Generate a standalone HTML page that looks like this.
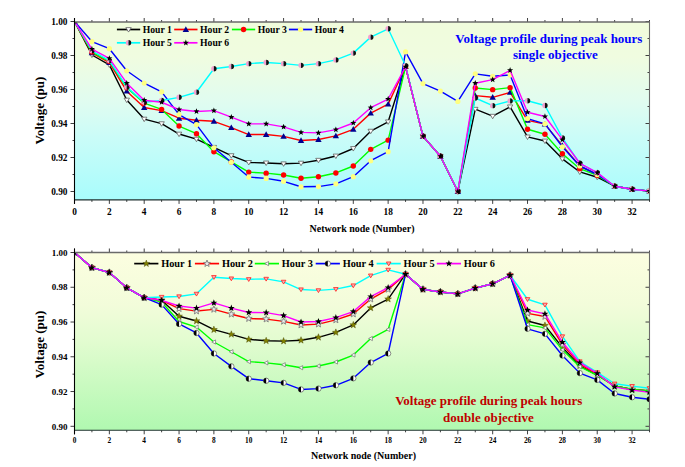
<!DOCTYPE html>
<html><head><meta charset="utf-8"><style>
html,body{margin:0;padding:0;background:#fff;width:685px;height:467px;overflow:hidden}
svg{display:block}
</style></head><body>
<svg width="685" height="467" viewBox="0 0 685 467">
<defs>
<linearGradient id="gt" x1="0" y1="0" x2="0" y2="1">
<stop offset="0" stop-color="#f0fcdc"/><stop offset="0.2" stop-color="#f0fce0"/><stop offset="0.45" stop-color="#e0fcf0"/><stop offset="0.65" stop-color="#cafcf8"/><stop offset="1" stop-color="#a8fcfc"/>
</linearGradient>
<linearGradient id="gb" x1="0" y1="0" x2="0" y2="1">
<stop offset="0" stop-color="#fcfee0"/><stop offset="0.3" stop-color="#f2fcda"/><stop offset="0.5" stop-color="#e2fcd0"/><stop offset="1" stop-color="#b0f8b0"/>
</linearGradient>
<clipPath id="ct"><rect x="74.5" y="22.0" width="575.0" height="177.9"/></clipPath>
<clipPath id="cb"><rect x="74.5" y="252.5" width="575.0" height="177.8"/></clipPath>
</defs>
<rect width="685" height="467" fill="#ffffff"/>
<rect x="74.5" y="22.0" width="575.0" height="177.9" fill="url(#gt)"/>
<rect x="74.5" y="252.5" width="575.0" height="177.8" fill="url(#gb)"/>
<line x1="116.9" y1="29.5" x2="140.20000000000002" y2="29.5" stroke="#000000" stroke-width="1.7"/>
<polygon points="125.85,27.61 131.25,27.61 128.55,32.06" fill="#ffffff" stroke="#606060" stroke-width="0.8"/>
<text x="142.70000000000002" y="32.80" font-size="9.7" font-family="'Liberation Serif', serif" font-weight="bold" fill="#000">Hour 1</text><line x1="174.2" y1="29.5" x2="197.5" y2="29.5" stroke="#ff0000" stroke-width="1.7"/>
<polygon points="182.65,31.90 189.05,31.90 185.85,26.30" fill="#000090"/>
<text x="200.0" y="32.80" font-size="9.7" font-family="'Liberation Serif', serif" font-weight="bold" fill="#000">Hour 2</text><line x1="231.9" y1="29.5" x2="255.20000000000002" y2="29.5" stroke="#00ff00" stroke-width="1.7"/>
<circle cx="243.55" cy="29.50" r="2.7" fill="#ff0000"/>
<text x="257.70000000000005" y="32.80" font-size="9.7" font-family="'Liberation Serif', serif" font-weight="bold" fill="#000">Hour 3</text><line x1="288.9" y1="29.5" x2="312.2" y2="29.5" stroke="#0000ff" stroke-width="1.7"/>
<circle cx="300.55" cy="29.50" r="2.6" fill="#ffff80"/>
<text x="314.7" y="32.80" font-size="9.7" font-family="'Liberation Serif', serif" font-weight="bold" fill="#000">Hour 4</text><line x1="116.9" y1="42.8" x2="140.20000000000002" y2="42.8" stroke="#00ffff" stroke-width="1.7"/>
<path d="M128.55,40.10 A2.7,2.7 0 0 0 128.55,45.50 Z" fill="#f4a0d0"/><path d="M128.55,40.10 A2.7,2.7 0 0 1 128.55,45.50 Z" fill="#101010"/>
<text x="142.70000000000002" y="46.10" font-size="9.7" font-family="'Liberation Serif', serif" font-weight="bold" fill="#000">Hour 5</text><line x1="174.2" y1="42.8" x2="197.5" y2="42.8" stroke="#ff00ff" stroke-width="1.7"/>
<polygon points="185.85,39.60 186.64,41.71 188.89,41.81 187.13,43.22 187.73,45.39 185.85,44.14 183.97,45.39 184.57,43.22 182.81,41.81 185.06,41.71" fill="#000000" stroke="none" stroke-width="0.5"/>
<text x="200.0" y="46.10" font-size="9.7" font-family="'Liberation Serif', serif" font-weight="bold" fill="#000">Hour 6</text><text x="548.9" y="43.2" font-size="13" text-anchor="middle" font-family="'Liberation Serif', serif" font-weight="bold" fill="#0000ff">Voltage profile during peak hours</text><text x="555.3" y="59.1" font-size="13" text-anchor="middle" font-family="'Liberation Serif', serif" font-weight="bold" fill="#0000ff">single objective</text><g clip-path="url(#ct)">
<polyline points="74.50,21.50 91.92,54.99 109.35,64.85 126.77,100.04 144.20,119.08 161.62,123.67 179.05,134.04 196.47,139.14 213.89,147.30 231.32,155.63 248.74,162.43 266.17,162.94 283.59,163.79 301.02,163.11 318.44,160.22 335.86,155.97 353.29,148.49 370.71,131.15 388.14,121.80 405.56,66.72 422.98,136.25 440.41,156.31 457.83,191.50 475.26,109.22 492.68,116.19 510.11,106.84 527.53,136.93 544.95,141.01 562.38,158.86 579.80,171.95 597.23,177.22 614.65,186.23 632.08,189.29 649.50,191.16" fill="none" stroke="#000000" stroke-width="1.4" stroke-linejoin="round"/>
<polygon points="71.80,19.61 77.20,19.61 74.50,24.07" fill="#ffffff" stroke="#606060" stroke-width="0.8"/>
<polygon points="89.22,53.10 94.62,53.10 91.92,57.56" fill="#ffffff" stroke="#606060" stroke-width="0.8"/>
<polygon points="106.65,62.96 112.05,62.96 109.35,67.41" fill="#ffffff" stroke="#606060" stroke-width="0.8"/>
<polygon points="124.07,98.15 129.47,98.15 126.77,102.61" fill="#ffffff" stroke="#606060" stroke-width="0.8"/>
<polygon points="141.50,117.19 146.90,117.19 144.20,121.65" fill="#ffffff" stroke="#606060" stroke-width="0.8"/>
<polygon points="158.92,121.78 164.32,121.78 161.62,126.24" fill="#ffffff" stroke="#606060" stroke-width="0.8"/>
<polygon points="176.35,132.15 181.75,132.15 179.05,136.61" fill="#ffffff" stroke="#606060" stroke-width="0.8"/>
<polygon points="193.77,137.25 199.17,137.25 196.47,141.71" fill="#ffffff" stroke="#606060" stroke-width="0.8"/>
<polygon points="211.19,145.41 216.59,145.41 213.89,149.86" fill="#ffffff" stroke="#606060" stroke-width="0.8"/>
<polygon points="228.62,153.74 234.02,153.74 231.32,158.19" fill="#ffffff" stroke="#606060" stroke-width="0.8"/>
<polygon points="246.04,160.54 251.44,160.54 248.74,164.99" fill="#ffffff" stroke="#606060" stroke-width="0.8"/>
<polygon points="263.47,161.05 268.87,161.05 266.17,165.51" fill="#ffffff" stroke="#606060" stroke-width="0.8"/>
<polygon points="280.89,161.90 286.29,161.90 283.59,166.35" fill="#ffffff" stroke="#606060" stroke-width="0.8"/>
<polygon points="298.32,161.22 303.72,161.22 301.02,165.68" fill="#ffffff" stroke="#606060" stroke-width="0.8"/>
<polygon points="315.74,158.33 321.14,158.33 318.44,162.78" fill="#ffffff" stroke="#606060" stroke-width="0.8"/>
<polygon points="333.16,154.08 338.56,154.08 335.86,158.53" fill="#ffffff" stroke="#606060" stroke-width="0.8"/>
<polygon points="350.59,146.60 355.99,146.60 353.29,151.05" fill="#ffffff" stroke="#606060" stroke-width="0.8"/>
<polygon points="368.01,129.26 373.41,129.26 370.71,133.72" fill="#ffffff" stroke="#606060" stroke-width="0.8"/>
<polygon points="385.44,119.91 390.84,119.91 388.14,124.37" fill="#ffffff" stroke="#606060" stroke-width="0.8"/>
<polygon points="402.86,64.83 408.26,64.83 405.56,69.28" fill="#ffffff" stroke="#606060" stroke-width="0.8"/>
<polygon points="420.28,134.36 425.68,134.36 422.98,138.81" fill="#ffffff" stroke="#606060" stroke-width="0.8"/>
<polygon points="437.71,154.42 443.11,154.42 440.41,158.88" fill="#ffffff" stroke="#606060" stroke-width="0.8"/>
<polygon points="455.13,189.61 460.53,189.61 457.83,194.06" fill="#ffffff" stroke="#606060" stroke-width="0.8"/>
<polygon points="472.56,107.33 477.96,107.33 475.26,111.78" fill="#ffffff" stroke="#606060" stroke-width="0.8"/>
<polygon points="489.98,114.30 495.38,114.30 492.68,118.75" fill="#ffffff" stroke="#606060" stroke-width="0.8"/>
<polygon points="507.41,104.95 512.81,104.95 510.11,109.41" fill="#ffffff" stroke="#606060" stroke-width="0.8"/>
<polygon points="524.83,135.04 530.23,135.04 527.53,139.49" fill="#ffffff" stroke="#606060" stroke-width="0.8"/>
<polygon points="542.25,139.12 547.65,139.12 544.95,143.58" fill="#ffffff" stroke="#606060" stroke-width="0.8"/>
<polygon points="559.68,156.97 565.08,156.97 562.38,161.42" fill="#ffffff" stroke="#606060" stroke-width="0.8"/>
<polygon points="577.10,170.06 582.50,170.06 579.80,174.52" fill="#ffffff" stroke="#606060" stroke-width="0.8"/>
<polygon points="594.53,175.33 599.93,175.33 597.23,179.79" fill="#ffffff" stroke="#606060" stroke-width="0.8"/>
<polygon points="611.95,184.34 617.35,184.34 614.65,188.79" fill="#ffffff" stroke="#606060" stroke-width="0.8"/>
<polygon points="629.38,187.40 634.78,187.40 632.08,191.86" fill="#ffffff" stroke="#606060" stroke-width="0.8"/>
<polygon points="646.80,189.27 652.20,189.27 649.50,193.72" fill="#ffffff" stroke="#606060" stroke-width="0.8"/>
<polyline points="74.50,21.50 91.92,52.95 109.35,62.64 126.77,91.20 144.20,107.52 161.62,110.58 179.05,118.23 196.47,120.27 213.89,121.29 231.32,127.58 248.74,134.55 266.17,134.55 283.59,136.42 301.02,140.50 318.44,139.48 335.86,135.91 353.29,129.28 370.71,113.13 388.14,104.12 405.56,66.72 422.98,136.25 440.41,156.31 457.83,191.50 475.26,95.62 492.68,97.32 510.11,92.39 527.53,120.44 544.95,124.18 562.38,145.60 579.80,166.00 597.23,174.50 614.65,186.23 632.08,189.29 649.50,191.16" fill="none" stroke="#ff0000" stroke-width="1.4" stroke-linejoin="round"/>
<polygon points="71.30,23.90 77.70,23.90 74.50,18.30" fill="#000090"/>
<polygon points="88.72,55.35 95.12,55.35 91.92,49.75" fill="#000090"/>
<polygon points="106.15,65.04 112.55,65.04 109.35,59.44" fill="#000090"/>
<polygon points="123.57,93.60 129.97,93.60 126.77,88.00" fill="#000090"/>
<polygon points="141.00,109.92 147.40,109.92 144.20,104.32" fill="#000090"/>
<polygon points="158.42,112.98 164.82,112.98 161.62,107.38" fill="#000090"/>
<polygon points="175.85,120.63 182.25,120.63 179.05,115.03" fill="#000090"/>
<polygon points="193.27,122.67 199.67,122.67 196.47,117.07" fill="#000090"/>
<polygon points="210.69,123.69 217.09,123.69 213.89,118.09" fill="#000090"/>
<polygon points="228.12,129.98 234.52,129.98 231.32,124.38" fill="#000090"/>
<polygon points="245.54,136.95 251.94,136.95 248.74,131.35" fill="#000090"/>
<polygon points="262.97,136.95 269.37,136.95 266.17,131.35" fill="#000090"/>
<polygon points="280.39,138.82 286.79,138.82 283.59,133.22" fill="#000090"/>
<polygon points="297.82,142.90 304.22,142.90 301.02,137.30" fill="#000090"/>
<polygon points="315.24,141.88 321.64,141.88 318.44,136.28" fill="#000090"/>
<polygon points="332.66,138.31 339.06,138.31 335.86,132.71" fill="#000090"/>
<polygon points="350.09,131.68 356.49,131.68 353.29,126.08" fill="#000090"/>
<polygon points="367.51,115.53 373.91,115.53 370.71,109.93" fill="#000090"/>
<polygon points="384.94,106.52 391.34,106.52 388.14,100.92" fill="#000090"/>
<polygon points="402.36,69.12 408.76,69.12 405.56,63.52" fill="#000090"/>
<polygon points="419.78,138.65 426.18,138.65 422.98,133.05" fill="#000090"/>
<polygon points="437.21,158.71 443.61,158.71 440.41,153.11" fill="#000090"/>
<polygon points="454.63,193.90 461.03,193.90 457.83,188.30" fill="#000090"/>
<polygon points="472.06,98.02 478.46,98.02 475.26,92.42" fill="#000090"/>
<polygon points="489.48,99.72 495.88,99.72 492.68,94.12" fill="#000090"/>
<polygon points="506.91,94.79 513.31,94.79 510.11,89.19" fill="#000090"/>
<polygon points="524.33,122.84 530.73,122.84 527.53,117.24" fill="#000090"/>
<polygon points="541.75,126.58 548.15,126.58 544.95,120.98" fill="#000090"/>
<polygon points="559.18,148.00 565.58,148.00 562.38,142.40" fill="#000090"/>
<polygon points="576.60,168.40 583.00,168.40 579.80,162.80" fill="#000090"/>
<polygon points="594.03,176.90 600.43,176.90 597.23,171.30" fill="#000090"/>
<polygon points="611.45,188.63 617.85,188.63 614.65,183.03" fill="#000090"/>
<polygon points="628.88,191.69 635.28,191.69 632.08,186.09" fill="#000090"/>
<polygon points="646.30,193.56 652.70,193.56 649.50,187.96" fill="#000090"/>
<polyline points="74.50,21.50 91.92,52.10 109.35,61.45 126.77,87.80 144.20,103.10 161.62,109.39 179.05,126.05 196.47,133.70 213.89,151.72 231.32,161.92 248.74,172.12 266.17,173.14 283.59,175.01 301.02,178.24 318.44,176.71 335.86,172.97 353.29,166.00 370.71,149.34 388.14,140.16 405.56,66.72 422.98,136.25 440.41,156.31 457.83,191.50 475.26,87.97 492.68,89.67 510.11,87.63 527.53,129.28 544.95,134.21 562.38,153.76 579.80,168.72 597.23,175.35 614.65,186.23 632.08,189.29 649.50,191.16" fill="none" stroke="#00ff00" stroke-width="1.4" stroke-linejoin="round"/>
<circle cx="74.50" cy="21.50" r="2.7" fill="#ff0000"/>
<circle cx="91.92" cy="52.10" r="2.7" fill="#ff0000"/>
<circle cx="109.35" cy="61.45" r="2.7" fill="#ff0000"/>
<circle cx="126.77" cy="87.80" r="2.7" fill="#ff0000"/>
<circle cx="144.20" cy="103.10" r="2.7" fill="#ff0000"/>
<circle cx="161.62" cy="109.39" r="2.7" fill="#ff0000"/>
<circle cx="179.05" cy="126.05" r="2.7" fill="#ff0000"/>
<circle cx="196.47" cy="133.70" r="2.7" fill="#ff0000"/>
<circle cx="213.89" cy="151.72" r="2.7" fill="#ff0000"/>
<circle cx="231.32" cy="161.92" r="2.7" fill="#ff0000"/>
<circle cx="248.74" cy="172.12" r="2.7" fill="#ff0000"/>
<circle cx="266.17" cy="173.14" r="2.7" fill="#ff0000"/>
<circle cx="283.59" cy="175.01" r="2.7" fill="#ff0000"/>
<circle cx="301.02" cy="178.24" r="2.7" fill="#ff0000"/>
<circle cx="318.44" cy="176.71" r="2.7" fill="#ff0000"/>
<circle cx="335.86" cy="172.97" r="2.7" fill="#ff0000"/>
<circle cx="353.29" cy="166.00" r="2.7" fill="#ff0000"/>
<circle cx="370.71" cy="149.34" r="2.7" fill="#ff0000"/>
<circle cx="388.14" cy="140.16" r="2.7" fill="#ff0000"/>
<circle cx="405.56" cy="66.72" r="2.7" fill="#ff0000"/>
<circle cx="422.98" cy="136.25" r="2.7" fill="#ff0000"/>
<circle cx="440.41" cy="156.31" r="2.7" fill="#ff0000"/>
<circle cx="457.83" cy="191.50" r="2.7" fill="#ff0000"/>
<circle cx="475.26" cy="87.97" r="2.7" fill="#ff0000"/>
<circle cx="492.68" cy="89.67" r="2.7" fill="#ff0000"/>
<circle cx="510.11" cy="87.63" r="2.7" fill="#ff0000"/>
<circle cx="527.53" cy="129.28" r="2.7" fill="#ff0000"/>
<circle cx="544.95" cy="134.21" r="2.7" fill="#ff0000"/>
<circle cx="562.38" cy="153.76" r="2.7" fill="#ff0000"/>
<circle cx="579.80" cy="168.72" r="2.7" fill="#ff0000"/>
<circle cx="597.23" cy="175.35" r="2.7" fill="#ff0000"/>
<circle cx="614.65" cy="186.23" r="2.7" fill="#ff0000"/>
<circle cx="632.08" cy="189.29" r="2.7" fill="#ff0000"/>
<circle cx="649.50" cy="191.16" r="2.7" fill="#ff0000"/>
<polyline points="74.50,21.50 91.92,41.56 109.35,48.70 126.77,70.80 144.20,83.04 161.62,91.88 179.05,114.66 196.47,124.69 213.89,147.81 231.32,162.26 248.74,177.05 266.17,178.41 283.59,181.30 301.02,186.74 318.44,186.57 335.86,183.85 353.29,176.71 370.71,160.73 388.14,151.72 405.56,51.93 422.98,83.55 440.41,91.03 457.83,101.40 475.26,73.86 492.68,76.24 510.11,75.05 527.53,118.57 544.95,123.84 562.38,146.79 579.80,166.00 597.23,174.50 614.65,186.23 632.08,189.29 649.50,191.16" fill="none" stroke="#0000ff" stroke-width="1.4" stroke-linejoin="round"/>
<circle cx="74.50" cy="21.50" r="2.6" fill="#ffff80"/>
<circle cx="91.92" cy="41.56" r="2.6" fill="#ffff80"/>
<circle cx="109.35" cy="48.70" r="2.6" fill="#ffff80"/>
<circle cx="126.77" cy="70.80" r="2.6" fill="#ffff80"/>
<circle cx="144.20" cy="83.04" r="2.6" fill="#ffff80"/>
<circle cx="161.62" cy="91.88" r="2.6" fill="#ffff80"/>
<circle cx="179.05" cy="114.66" r="2.6" fill="#ffff80"/>
<circle cx="196.47" cy="124.69" r="2.6" fill="#ffff80"/>
<circle cx="213.89" cy="147.81" r="2.6" fill="#ffff80"/>
<circle cx="231.32" cy="162.26" r="2.6" fill="#ffff80"/>
<circle cx="248.74" cy="177.05" r="2.6" fill="#ffff80"/>
<circle cx="266.17" cy="178.41" r="2.6" fill="#ffff80"/>
<circle cx="283.59" cy="181.30" r="2.6" fill="#ffff80"/>
<circle cx="301.02" cy="186.74" r="2.6" fill="#ffff80"/>
<circle cx="318.44" cy="186.57" r="2.6" fill="#ffff80"/>
<circle cx="335.86" cy="183.85" r="2.6" fill="#ffff80"/>
<circle cx="353.29" cy="176.71" r="2.6" fill="#ffff80"/>
<circle cx="370.71" cy="160.73" r="2.6" fill="#ffff80"/>
<circle cx="388.14" cy="151.72" r="2.6" fill="#ffff80"/>
<circle cx="405.56" cy="51.93" r="2.6" fill="#ffff80"/>
<circle cx="422.98" cy="83.55" r="2.6" fill="#ffff80"/>
<circle cx="440.41" cy="91.03" r="2.6" fill="#ffff80"/>
<circle cx="457.83" cy="101.40" r="2.6" fill="#ffff80"/>
<circle cx="475.26" cy="73.86" r="2.6" fill="#ffff80"/>
<circle cx="492.68" cy="76.24" r="2.6" fill="#ffff80"/>
<circle cx="510.11" cy="75.05" r="2.6" fill="#ffff80"/>
<circle cx="527.53" cy="118.57" r="2.6" fill="#ffff80"/>
<circle cx="544.95" cy="123.84" r="2.6" fill="#ffff80"/>
<circle cx="562.38" cy="146.79" r="2.6" fill="#ffff80"/>
<circle cx="579.80" cy="166.00" r="2.6" fill="#ffff80"/>
<circle cx="597.23" cy="174.50" r="2.6" fill="#ffff80"/>
<circle cx="614.65" cy="186.23" r="2.6" fill="#ffff80"/>
<circle cx="632.08" cy="189.29" r="2.6" fill="#ffff80"/>
<circle cx="649.50" cy="191.16" r="2.6" fill="#ffff80"/>
<polyline points="74.50,21.50 91.92,50.74 109.35,60.60 126.77,86.95 144.20,102.25 161.62,100.55 179.05,97.32 196.47,92.22 213.89,68.76 231.32,66.55 248.74,63.66 266.17,62.47 283.59,63.66 301.02,65.36 318.44,63.66 335.86,59.92 353.29,53.12 370.71,37.14 388.14,28.81 405.56,65.70 422.98,136.25 440.41,156.31 457.83,191.50 475.26,98.00 492.68,105.65 510.11,100.89 527.53,100.72 544.95,105.48 562.38,137.95 579.80,163.28 597.23,172.80 614.65,186.23 632.08,189.29 649.50,191.16" fill="none" stroke="#00ffff" stroke-width="1.4" stroke-linejoin="round"/>
<path d="M74.50,18.80 A2.7,2.7 0 0 0 74.50,24.20 Z" fill="#f4a0d0"/><path d="M74.50,18.80 A2.7,2.7 0 0 1 74.50,24.20 Z" fill="#101010"/>
<path d="M91.92,48.04 A2.7,2.7 0 0 0 91.92,53.44 Z" fill="#f4a0d0"/><path d="M91.92,48.04 A2.7,2.7 0 0 1 91.92,53.44 Z" fill="#101010"/>
<path d="M109.35,57.90 A2.7,2.7 0 0 0 109.35,63.30 Z" fill="#f4a0d0"/><path d="M109.35,57.90 A2.7,2.7 0 0 1 109.35,63.30 Z" fill="#101010"/>
<path d="M126.77,84.25 A2.7,2.7 0 0 0 126.77,89.65 Z" fill="#f4a0d0"/><path d="M126.77,84.25 A2.7,2.7 0 0 1 126.77,89.65 Z" fill="#101010"/>
<path d="M144.20,99.55 A2.7,2.7 0 0 0 144.20,104.95 Z" fill="#f4a0d0"/><path d="M144.20,99.55 A2.7,2.7 0 0 1 144.20,104.95 Z" fill="#101010"/>
<path d="M161.62,97.85 A2.7,2.7 0 0 0 161.62,103.25 Z" fill="#f4a0d0"/><path d="M161.62,97.85 A2.7,2.7 0 0 1 161.62,103.25 Z" fill="#101010"/>
<path d="M179.05,94.62 A2.7,2.7 0 0 0 179.05,100.02 Z" fill="#f4a0d0"/><path d="M179.05,94.62 A2.7,2.7 0 0 1 179.05,100.02 Z" fill="#101010"/>
<path d="M196.47,89.52 A2.7,2.7 0 0 0 196.47,94.92 Z" fill="#f4a0d0"/><path d="M196.47,89.52 A2.7,2.7 0 0 1 196.47,94.92 Z" fill="#101010"/>
<path d="M213.89,66.06 A2.7,2.7 0 0 0 213.89,71.46 Z" fill="#f4a0d0"/><path d="M213.89,66.06 A2.7,2.7 0 0 1 213.89,71.46 Z" fill="#101010"/>
<path d="M231.32,63.85 A2.7,2.7 0 0 0 231.32,69.25 Z" fill="#f4a0d0"/><path d="M231.32,63.85 A2.7,2.7 0 0 1 231.32,69.25 Z" fill="#101010"/>
<path d="M248.74,60.96 A2.7,2.7 0 0 0 248.74,66.36 Z" fill="#f4a0d0"/><path d="M248.74,60.96 A2.7,2.7 0 0 1 248.74,66.36 Z" fill="#101010"/>
<path d="M266.17,59.77 A2.7,2.7 0 0 0 266.17,65.17 Z" fill="#f4a0d0"/><path d="M266.17,59.77 A2.7,2.7 0 0 1 266.17,65.17 Z" fill="#101010"/>
<path d="M283.59,60.96 A2.7,2.7 0 0 0 283.59,66.36 Z" fill="#f4a0d0"/><path d="M283.59,60.96 A2.7,2.7 0 0 1 283.59,66.36 Z" fill="#101010"/>
<path d="M301.02,62.66 A2.7,2.7 0 0 0 301.02,68.06 Z" fill="#f4a0d0"/><path d="M301.02,62.66 A2.7,2.7 0 0 1 301.02,68.06 Z" fill="#101010"/>
<path d="M318.44,60.96 A2.7,2.7 0 0 0 318.44,66.36 Z" fill="#f4a0d0"/><path d="M318.44,60.96 A2.7,2.7 0 0 1 318.44,66.36 Z" fill="#101010"/>
<path d="M335.86,57.22 A2.7,2.7 0 0 0 335.86,62.62 Z" fill="#f4a0d0"/><path d="M335.86,57.22 A2.7,2.7 0 0 1 335.86,62.62 Z" fill="#101010"/>
<path d="M353.29,50.42 A2.7,2.7 0 0 0 353.29,55.82 Z" fill="#f4a0d0"/><path d="M353.29,50.42 A2.7,2.7 0 0 1 353.29,55.82 Z" fill="#101010"/>
<path d="M370.71,34.44 A2.7,2.7 0 0 0 370.71,39.84 Z" fill="#f4a0d0"/><path d="M370.71,34.44 A2.7,2.7 0 0 1 370.71,39.84 Z" fill="#101010"/>
<path d="M388.14,26.11 A2.7,2.7 0 0 0 388.14,31.51 Z" fill="#f4a0d0"/><path d="M388.14,26.11 A2.7,2.7 0 0 1 388.14,31.51 Z" fill="#101010"/>
<path d="M405.56,63.00 A2.7,2.7 0 0 0 405.56,68.40 Z" fill="#f4a0d0"/><path d="M405.56,63.00 A2.7,2.7 0 0 1 405.56,68.40 Z" fill="#101010"/>
<path d="M422.98,133.55 A2.7,2.7 0 0 0 422.98,138.95 Z" fill="#f4a0d0"/><path d="M422.98,133.55 A2.7,2.7 0 0 1 422.98,138.95 Z" fill="#101010"/>
<path d="M440.41,153.61 A2.7,2.7 0 0 0 440.41,159.01 Z" fill="#f4a0d0"/><path d="M440.41,153.61 A2.7,2.7 0 0 1 440.41,159.01 Z" fill="#101010"/>
<path d="M457.83,188.80 A2.7,2.7 0 0 0 457.83,194.20 Z" fill="#f4a0d0"/><path d="M457.83,188.80 A2.7,2.7 0 0 1 457.83,194.20 Z" fill="#101010"/>
<path d="M475.26,95.30 A2.7,2.7 0 0 0 475.26,100.70 Z" fill="#f4a0d0"/><path d="M475.26,95.30 A2.7,2.7 0 0 1 475.26,100.70 Z" fill="#101010"/>
<path d="M492.68,102.95 A2.7,2.7 0 0 0 492.68,108.35 Z" fill="#f4a0d0"/><path d="M492.68,102.95 A2.7,2.7 0 0 1 492.68,108.35 Z" fill="#101010"/>
<path d="M510.11,98.19 A2.7,2.7 0 0 0 510.11,103.59 Z" fill="#f4a0d0"/><path d="M510.11,98.19 A2.7,2.7 0 0 1 510.11,103.59 Z" fill="#101010"/>
<path d="M527.53,98.02 A2.7,2.7 0 0 0 527.53,103.42 Z" fill="#f4a0d0"/><path d="M527.53,98.02 A2.7,2.7 0 0 1 527.53,103.42 Z" fill="#101010"/>
<path d="M544.95,102.78 A2.7,2.7 0 0 0 544.95,108.18 Z" fill="#f4a0d0"/><path d="M544.95,102.78 A2.7,2.7 0 0 1 544.95,108.18 Z" fill="#101010"/>
<path d="M562.38,135.25 A2.7,2.7 0 0 0 562.38,140.65 Z" fill="#f4a0d0"/><path d="M562.38,135.25 A2.7,2.7 0 0 1 562.38,140.65 Z" fill="#101010"/>
<path d="M579.80,160.58 A2.7,2.7 0 0 0 579.80,165.98 Z" fill="#f4a0d0"/><path d="M579.80,160.58 A2.7,2.7 0 0 1 579.80,165.98 Z" fill="#101010"/>
<path d="M597.23,170.10 A2.7,2.7 0 0 0 597.23,175.50 Z" fill="#f4a0d0"/><path d="M597.23,170.10 A2.7,2.7 0 0 1 597.23,175.50 Z" fill="#101010"/>
<path d="M614.65,183.53 A2.7,2.7 0 0 0 614.65,188.93 Z" fill="#f4a0d0"/><path d="M614.65,183.53 A2.7,2.7 0 0 1 614.65,188.93 Z" fill="#101010"/>
<path d="M632.08,186.59 A2.7,2.7 0 0 0 632.08,191.99 Z" fill="#f4a0d0"/><path d="M632.08,186.59 A2.7,2.7 0 0 1 632.08,191.99 Z" fill="#101010"/>
<path d="M649.50,188.46 A2.7,2.7 0 0 0 649.50,193.86 Z" fill="#f4a0d0"/><path d="M649.50,188.46 A2.7,2.7 0 0 1 649.50,193.86 Z" fill="#101010"/>
<polyline points="74.50,21.50 91.92,49.04 109.35,58.39 126.77,83.21 144.20,100.21 161.62,102.25 179.05,109.56 196.47,111.43 213.89,110.58 231.32,117.21 248.74,123.84 266.17,123.84 283.59,126.90 301.02,132.34 318.44,132.85 335.86,129.62 353.29,122.99 370.71,107.69 388.14,99.02 405.56,66.72 422.98,136.25 440.41,156.31 457.83,191.50 475.26,83.21 492.68,79.64 510.11,70.29 527.53,112.28 544.95,116.53 562.38,139.65 579.80,163.28 597.23,172.63 614.65,186.23 632.08,189.29 649.50,191.16" fill="none" stroke="#ff00ff" stroke-width="1.4" stroke-linejoin="round"/>
<polygon points="74.50,18.30 75.29,20.41 77.54,20.51 75.78,21.92 76.38,24.09 74.50,22.84 72.62,24.09 73.22,21.92 71.46,20.51 73.71,20.41" fill="#000000" stroke="none" stroke-width="0.5"/>
<polygon points="91.92,45.84 92.71,47.95 94.97,48.05 93.20,49.46 93.81,51.63 91.92,50.38 90.04,51.63 90.65,49.46 88.88,48.05 91.13,47.95" fill="#000000" stroke="none" stroke-width="0.5"/>
<polygon points="109.35,55.19 110.14,57.30 112.39,57.40 110.63,58.81 111.23,60.98 109.35,59.73 107.47,60.98 108.07,58.81 106.31,57.40 108.56,57.30" fill="#000000" stroke="none" stroke-width="0.5"/>
<polygon points="126.77,80.01 127.56,82.12 129.82,82.22 128.05,83.63 128.65,85.80 126.77,84.55 124.89,85.80 125.49,83.63 123.73,82.22 125.98,82.12" fill="#000000" stroke="none" stroke-width="0.5"/>
<polygon points="144.20,97.01 144.99,99.12 147.24,99.22 145.48,100.63 146.08,102.80 144.20,101.55 142.32,102.80 142.92,100.63 141.15,99.22 143.41,99.12" fill="#000000" stroke="none" stroke-width="0.5"/>
<polygon points="161.62,99.05 162.41,101.16 164.66,101.26 162.90,102.67 163.50,104.84 161.62,103.59 159.74,104.84 160.34,102.67 158.58,101.26 160.83,101.16" fill="#000000" stroke="none" stroke-width="0.5"/>
<polygon points="179.05,106.36 179.84,108.47 182.09,108.57 180.32,109.98 180.93,112.15 179.05,110.90 177.16,112.15 177.77,109.98 176.00,108.57 178.26,108.47" fill="#000000" stroke="none" stroke-width="0.5"/>
<polygon points="196.47,108.23 197.26,110.34 199.51,110.44 197.75,111.85 198.35,114.02 196.47,112.77 194.59,114.02 195.19,111.85 193.43,110.44 195.68,110.34" fill="#000000" stroke="none" stroke-width="0.5"/>
<polygon points="213.89,107.38 214.68,109.49 216.94,109.59 215.17,111.00 215.77,113.17 213.89,111.92 212.01,113.17 212.62,111.00 210.85,109.59 213.10,109.49" fill="#000000" stroke="none" stroke-width="0.5"/>
<polygon points="231.32,114.01 232.11,116.12 234.36,116.22 232.60,117.63 233.20,119.80 231.32,118.55 229.44,119.80 230.04,117.63 228.27,116.22 230.53,116.12" fill="#000000" stroke="none" stroke-width="0.5"/>
<polygon points="248.74,120.64 249.53,122.75 251.79,122.85 250.02,124.26 250.62,126.43 248.74,125.18 246.86,126.43 247.46,124.26 245.70,122.85 247.95,122.75" fill="#000000" stroke="none" stroke-width="0.5"/>
<polygon points="266.17,120.64 266.96,122.75 269.21,122.85 267.44,124.26 268.05,126.43 266.17,125.18 264.29,126.43 264.89,124.26 263.12,122.85 265.38,122.75" fill="#000000" stroke="none" stroke-width="0.5"/>
<polygon points="283.59,123.70 284.38,125.81 286.63,125.91 284.87,127.32 285.47,129.49 283.59,128.24 281.71,129.49 282.31,127.32 280.55,125.91 282.80,125.81" fill="#000000" stroke="none" stroke-width="0.5"/>
<polygon points="301.02,129.14 301.81,131.25 304.06,131.35 302.29,132.76 302.90,134.93 301.02,133.68 299.13,134.93 299.74,132.76 297.97,131.35 300.23,131.25" fill="#000000" stroke="none" stroke-width="0.5"/>
<polygon points="318.44,129.65 319.23,131.76 321.48,131.86 319.72,133.27 320.32,135.44 318.44,134.19 316.56,135.44 317.16,133.27 315.40,131.86 317.65,131.76" fill="#000000" stroke="none" stroke-width="0.5"/>
<polygon points="335.86,126.42 336.65,128.53 338.91,128.63 337.14,130.04 337.74,132.21 335.86,130.96 333.98,132.21 334.59,130.04 332.82,128.63 335.07,128.53" fill="#000000" stroke="none" stroke-width="0.5"/>
<polygon points="353.29,119.79 354.08,121.90 356.33,122.00 354.57,123.41 355.17,125.58 353.29,124.33 351.41,125.58 352.01,123.41 350.24,122.00 352.50,121.90" fill="#000000" stroke="none" stroke-width="0.5"/>
<polygon points="370.71,104.49 371.50,106.60 373.76,106.70 371.99,108.11 372.59,110.28 370.71,109.03 368.83,110.28 369.43,108.11 367.67,106.70 369.92,106.60" fill="#000000" stroke="none" stroke-width="0.5"/>
<polygon points="388.14,95.82 388.93,97.93 391.18,98.03 389.41,99.44 390.02,101.61 388.14,100.36 386.26,101.61 386.86,99.44 385.09,98.03 387.35,97.93" fill="#000000" stroke="none" stroke-width="0.5"/>
<polygon points="405.56,63.52 406.35,65.63 408.60,65.73 406.84,67.14 407.44,69.31 405.56,68.06 403.68,69.31 404.28,67.14 402.52,65.73 404.77,65.63" fill="#000000" stroke="none" stroke-width="0.5"/>
<polygon points="422.98,133.05 423.77,135.16 426.03,135.26 424.26,136.67 424.87,138.84 422.98,137.59 421.10,138.84 421.71,136.67 419.94,135.26 422.19,135.16" fill="#000000" stroke="none" stroke-width="0.5"/>
<polygon points="440.41,153.11 441.20,155.22 443.45,155.32 441.69,156.73 442.29,158.90 440.41,157.65 438.53,158.90 439.13,156.73 437.37,155.32 439.62,155.22" fill="#000000" stroke="none" stroke-width="0.5"/>
<polygon points="457.83,188.30 458.62,190.41 460.88,190.51 459.11,191.92 459.71,194.09 457.83,192.84 455.95,194.09 456.56,191.92 454.79,190.51 457.04,190.41" fill="#000000" stroke="none" stroke-width="0.5"/>
<polygon points="475.26,80.01 476.05,82.12 478.30,82.22 476.54,83.63 477.14,85.80 475.26,84.55 473.38,85.80 473.98,83.63 472.21,82.22 474.47,82.12" fill="#000000" stroke="none" stroke-width="0.5"/>
<polygon points="492.68,76.44 493.47,78.55 495.73,78.65 493.96,80.06 494.56,82.23 492.68,80.98 490.80,82.23 491.40,80.06 489.64,78.65 491.89,78.55" fill="#000000" stroke="none" stroke-width="0.5"/>
<polygon points="510.11,67.09 510.90,69.20 513.15,69.30 511.38,70.71 511.99,72.88 510.11,71.63 508.23,72.88 508.83,70.71 507.06,69.30 509.32,69.20" fill="#000000" stroke="none" stroke-width="0.5"/>
<polygon points="527.53,109.08 528.32,111.19 530.57,111.29 528.81,112.70 529.41,114.87 527.53,113.62 525.65,114.87 526.25,112.70 524.49,111.29 526.74,111.19" fill="#000000" stroke="none" stroke-width="0.5"/>
<polygon points="544.95,113.33 545.74,115.44 548.00,115.54 546.23,116.95 546.84,119.12 544.95,117.87 543.07,119.12 543.68,116.95 541.91,115.54 544.16,115.44" fill="#000000" stroke="none" stroke-width="0.5"/>
<polygon points="562.38,136.45 563.17,138.56 565.42,138.66 563.66,140.07 564.26,142.24 562.38,140.99 560.50,142.24 561.10,140.07 559.34,138.66 561.59,138.56" fill="#000000" stroke="none" stroke-width="0.5"/>
<polygon points="579.80,160.08 580.59,162.19 582.85,162.29 581.08,163.70 581.68,165.87 579.80,164.62 577.92,165.87 578.52,163.70 576.76,162.29 579.01,162.19" fill="#000000" stroke="none" stroke-width="0.5"/>
<polygon points="597.23,169.43 598.02,171.54 600.27,171.64 598.51,173.05 599.11,175.22 597.23,173.97 595.35,175.22 595.95,173.05 594.18,171.64 596.44,171.54" fill="#000000" stroke="none" stroke-width="0.5"/>
<polygon points="614.65,183.03 615.44,185.14 617.69,185.24 615.93,186.65 616.53,188.82 614.65,187.57 612.77,188.82 613.37,186.65 611.61,185.24 613.86,185.14" fill="#000000" stroke="none" stroke-width="0.5"/>
<polygon points="632.08,186.09 632.87,188.20 635.12,188.30 633.35,189.71 633.96,191.88 632.08,190.63 630.19,191.88 630.80,189.71 629.03,188.30 631.29,188.20" fill="#000000" stroke="none" stroke-width="0.5"/>
<polygon points="649.50,187.96 650.29,190.07 652.54,190.17 650.78,191.58 651.38,193.75 649.50,192.50 647.62,193.75 648.22,191.58 646.46,190.17 648.71,190.07" fill="#000000" stroke="none" stroke-width="0.5"/>
</g><line x1="74.50" y1="199.9" x2="74.50" y2="203.9" stroke="#404040" stroke-width="1"/>
<line x1="74.50" y1="22.0" x2="74.50" y2="18.0" stroke="#404040" stroke-width="1"/>
<text x="74.50" y="215.0" font-size="9.3" text-anchor="middle" font-family="'Liberation Serif', serif" font-weight="bold" fill="#000">0</text>
<line x1="91.92" y1="199.9" x2="91.92" y2="201.9" stroke="#404040" stroke-width="1"/>
<line x1="91.92" y1="22.0" x2="91.92" y2="20.0" stroke="#404040" stroke-width="1"/>
<line x1="109.35" y1="199.9" x2="109.35" y2="203.9" stroke="#404040" stroke-width="1"/>
<line x1="109.35" y1="22.0" x2="109.35" y2="18.0" stroke="#404040" stroke-width="1"/>
<text x="109.35" y="215.0" font-size="9.3" text-anchor="middle" font-family="'Liberation Serif', serif" font-weight="bold" fill="#000">2</text>
<line x1="126.77" y1="199.9" x2="126.77" y2="201.9" stroke="#404040" stroke-width="1"/>
<line x1="126.77" y1="22.0" x2="126.77" y2="20.0" stroke="#404040" stroke-width="1"/>
<line x1="144.20" y1="199.9" x2="144.20" y2="203.9" stroke="#404040" stroke-width="1"/>
<line x1="144.20" y1="22.0" x2="144.20" y2="18.0" stroke="#404040" stroke-width="1"/>
<text x="144.20" y="215.0" font-size="9.3" text-anchor="middle" font-family="'Liberation Serif', serif" font-weight="bold" fill="#000">4</text>
<line x1="161.62" y1="199.9" x2="161.62" y2="201.9" stroke="#404040" stroke-width="1"/>
<line x1="161.62" y1="22.0" x2="161.62" y2="20.0" stroke="#404040" stroke-width="1"/>
<line x1="179.05" y1="199.9" x2="179.05" y2="203.9" stroke="#404040" stroke-width="1"/>
<line x1="179.05" y1="22.0" x2="179.05" y2="18.0" stroke="#404040" stroke-width="1"/>
<text x="179.05" y="215.0" font-size="9.3" text-anchor="middle" font-family="'Liberation Serif', serif" font-weight="bold" fill="#000">6</text>
<line x1="196.47" y1="199.9" x2="196.47" y2="201.9" stroke="#404040" stroke-width="1"/>
<line x1="196.47" y1="22.0" x2="196.47" y2="20.0" stroke="#404040" stroke-width="1"/>
<line x1="213.89" y1="199.9" x2="213.89" y2="203.9" stroke="#404040" stroke-width="1"/>
<line x1="213.89" y1="22.0" x2="213.89" y2="18.0" stroke="#404040" stroke-width="1"/>
<text x="213.89" y="215.0" font-size="9.3" text-anchor="middle" font-family="'Liberation Serif', serif" font-weight="bold" fill="#000">8</text>
<line x1="231.32" y1="199.9" x2="231.32" y2="201.9" stroke="#404040" stroke-width="1"/>
<line x1="231.32" y1="22.0" x2="231.32" y2="20.0" stroke="#404040" stroke-width="1"/>
<line x1="248.74" y1="199.9" x2="248.74" y2="203.9" stroke="#404040" stroke-width="1"/>
<line x1="248.74" y1="22.0" x2="248.74" y2="18.0" stroke="#404040" stroke-width="1"/>
<text x="248.74" y="215.0" font-size="9.3" text-anchor="middle" font-family="'Liberation Serif', serif" font-weight="bold" fill="#000">10</text>
<line x1="266.17" y1="199.9" x2="266.17" y2="201.9" stroke="#404040" stroke-width="1"/>
<line x1="266.17" y1="22.0" x2="266.17" y2="20.0" stroke="#404040" stroke-width="1"/>
<line x1="283.59" y1="199.9" x2="283.59" y2="203.9" stroke="#404040" stroke-width="1"/>
<line x1="283.59" y1="22.0" x2="283.59" y2="18.0" stroke="#404040" stroke-width="1"/>
<text x="283.59" y="215.0" font-size="9.3" text-anchor="middle" font-family="'Liberation Serif', serif" font-weight="bold" fill="#000">12</text>
<line x1="301.02" y1="199.9" x2="301.02" y2="201.9" stroke="#404040" stroke-width="1"/>
<line x1="301.02" y1="22.0" x2="301.02" y2="20.0" stroke="#404040" stroke-width="1"/>
<line x1="318.44" y1="199.9" x2="318.44" y2="203.9" stroke="#404040" stroke-width="1"/>
<line x1="318.44" y1="22.0" x2="318.44" y2="18.0" stroke="#404040" stroke-width="1"/>
<text x="318.44" y="215.0" font-size="9.3" text-anchor="middle" font-family="'Liberation Serif', serif" font-weight="bold" fill="#000">14</text>
<line x1="335.86" y1="199.9" x2="335.86" y2="201.9" stroke="#404040" stroke-width="1"/>
<line x1="335.86" y1="22.0" x2="335.86" y2="20.0" stroke="#404040" stroke-width="1"/>
<line x1="353.29" y1="199.9" x2="353.29" y2="203.9" stroke="#404040" stroke-width="1"/>
<line x1="353.29" y1="22.0" x2="353.29" y2="18.0" stroke="#404040" stroke-width="1"/>
<text x="353.29" y="215.0" font-size="9.3" text-anchor="middle" font-family="'Liberation Serif', serif" font-weight="bold" fill="#000">16</text>
<line x1="370.71" y1="199.9" x2="370.71" y2="201.9" stroke="#404040" stroke-width="1"/>
<line x1="370.71" y1="22.0" x2="370.71" y2="20.0" stroke="#404040" stroke-width="1"/>
<line x1="388.14" y1="199.9" x2="388.14" y2="203.9" stroke="#404040" stroke-width="1"/>
<line x1="388.14" y1="22.0" x2="388.14" y2="18.0" stroke="#404040" stroke-width="1"/>
<text x="388.14" y="215.0" font-size="9.3" text-anchor="middle" font-family="'Liberation Serif', serif" font-weight="bold" fill="#000">18</text>
<line x1="405.56" y1="199.9" x2="405.56" y2="201.9" stroke="#404040" stroke-width="1"/>
<line x1="405.56" y1="22.0" x2="405.56" y2="20.0" stroke="#404040" stroke-width="1"/>
<line x1="422.98" y1="199.9" x2="422.98" y2="203.9" stroke="#404040" stroke-width="1"/>
<line x1="422.98" y1="22.0" x2="422.98" y2="18.0" stroke="#404040" stroke-width="1"/>
<text x="422.98" y="215.0" font-size="9.3" text-anchor="middle" font-family="'Liberation Serif', serif" font-weight="bold" fill="#000">20</text>
<line x1="440.41" y1="199.9" x2="440.41" y2="201.9" stroke="#404040" stroke-width="1"/>
<line x1="440.41" y1="22.0" x2="440.41" y2="20.0" stroke="#404040" stroke-width="1"/>
<line x1="457.83" y1="199.9" x2="457.83" y2="203.9" stroke="#404040" stroke-width="1"/>
<line x1="457.83" y1="22.0" x2="457.83" y2="18.0" stroke="#404040" stroke-width="1"/>
<text x="457.83" y="215.0" font-size="9.3" text-anchor="middle" font-family="'Liberation Serif', serif" font-weight="bold" fill="#000">22</text>
<line x1="475.26" y1="199.9" x2="475.26" y2="201.9" stroke="#404040" stroke-width="1"/>
<line x1="475.26" y1="22.0" x2="475.26" y2="20.0" stroke="#404040" stroke-width="1"/>
<line x1="492.68" y1="199.9" x2="492.68" y2="203.9" stroke="#404040" stroke-width="1"/>
<line x1="492.68" y1="22.0" x2="492.68" y2="18.0" stroke="#404040" stroke-width="1"/>
<text x="492.68" y="215.0" font-size="9.3" text-anchor="middle" font-family="'Liberation Serif', serif" font-weight="bold" fill="#000">24</text>
<line x1="510.11" y1="199.9" x2="510.11" y2="201.9" stroke="#404040" stroke-width="1"/>
<line x1="510.11" y1="22.0" x2="510.11" y2="20.0" stroke="#404040" stroke-width="1"/>
<line x1="527.53" y1="199.9" x2="527.53" y2="203.9" stroke="#404040" stroke-width="1"/>
<line x1="527.53" y1="22.0" x2="527.53" y2="18.0" stroke="#404040" stroke-width="1"/>
<text x="527.53" y="215.0" font-size="9.3" text-anchor="middle" font-family="'Liberation Serif', serif" font-weight="bold" fill="#000">26</text>
<line x1="544.95" y1="199.9" x2="544.95" y2="201.9" stroke="#404040" stroke-width="1"/>
<line x1="544.95" y1="22.0" x2="544.95" y2="20.0" stroke="#404040" stroke-width="1"/>
<line x1="562.38" y1="199.9" x2="562.38" y2="203.9" stroke="#404040" stroke-width="1"/>
<line x1="562.38" y1="22.0" x2="562.38" y2="18.0" stroke="#404040" stroke-width="1"/>
<text x="562.38" y="215.0" font-size="9.3" text-anchor="middle" font-family="'Liberation Serif', serif" font-weight="bold" fill="#000">28</text>
<line x1="579.80" y1="199.9" x2="579.80" y2="201.9" stroke="#404040" stroke-width="1"/>
<line x1="579.80" y1="22.0" x2="579.80" y2="20.0" stroke="#404040" stroke-width="1"/>
<line x1="597.23" y1="199.9" x2="597.23" y2="203.9" stroke="#404040" stroke-width="1"/>
<line x1="597.23" y1="22.0" x2="597.23" y2="18.0" stroke="#404040" stroke-width="1"/>
<text x="597.23" y="215.0" font-size="9.3" text-anchor="middle" font-family="'Liberation Serif', serif" font-weight="bold" fill="#000">30</text>
<line x1="614.65" y1="199.9" x2="614.65" y2="201.9" stroke="#404040" stroke-width="1"/>
<line x1="614.65" y1="22.0" x2="614.65" y2="20.0" stroke="#404040" stroke-width="1"/>
<line x1="632.08" y1="199.9" x2="632.08" y2="203.9" stroke="#404040" stroke-width="1"/>
<line x1="632.08" y1="22.0" x2="632.08" y2="18.0" stroke="#404040" stroke-width="1"/>
<text x="632.08" y="215.0" font-size="9.3" text-anchor="middle" font-family="'Liberation Serif', serif" font-weight="bold" fill="#000">32</text>
<line x1="649.50" y1="199.9" x2="649.50" y2="201.9" stroke="#404040" stroke-width="1"/>
<line x1="649.50" y1="22.0" x2="649.50" y2="20.0" stroke="#404040" stroke-width="1"/>
<line x1="70.5" y1="21.50" x2="74.5" y2="21.50" stroke="#404040" stroke-width="1"/>
<line x1="645.5" y1="21.50" x2="649.5" y2="21.50" stroke="#404040" stroke-width="1"/>
<text x="67.5" y="24.70" font-size="9.3" text-anchor="end" font-family="'Liberation Serif', serif" font-weight="bold" fill="#000">1.00</text>
<line x1="72.5" y1="38.50" x2="74.5" y2="38.50" stroke="#404040" stroke-width="1"/>
<line x1="647.5" y1="38.50" x2="649.5" y2="38.50" stroke="#404040" stroke-width="1"/>
<line x1="70.5" y1="55.50" x2="74.5" y2="55.50" stroke="#404040" stroke-width="1"/>
<line x1="645.5" y1="55.50" x2="649.5" y2="55.50" stroke="#404040" stroke-width="1"/>
<text x="67.5" y="58.70" font-size="9.3" text-anchor="end" font-family="'Liberation Serif', serif" font-weight="bold" fill="#000">0.98</text>
<line x1="72.5" y1="72.50" x2="74.5" y2="72.50" stroke="#404040" stroke-width="1"/>
<line x1="647.5" y1="72.50" x2="649.5" y2="72.50" stroke="#404040" stroke-width="1"/>
<line x1="70.5" y1="89.50" x2="74.5" y2="89.50" stroke="#404040" stroke-width="1"/>
<line x1="645.5" y1="89.50" x2="649.5" y2="89.50" stroke="#404040" stroke-width="1"/>
<text x="67.5" y="92.70" font-size="9.3" text-anchor="end" font-family="'Liberation Serif', serif" font-weight="bold" fill="#000">0.96</text>
<line x1="72.5" y1="106.50" x2="74.5" y2="106.50" stroke="#404040" stroke-width="1"/>
<line x1="647.5" y1="106.50" x2="649.5" y2="106.50" stroke="#404040" stroke-width="1"/>
<line x1="70.5" y1="123.50" x2="74.5" y2="123.50" stroke="#404040" stroke-width="1"/>
<line x1="645.5" y1="123.50" x2="649.5" y2="123.50" stroke="#404040" stroke-width="1"/>
<text x="67.5" y="126.70" font-size="9.3" text-anchor="end" font-family="'Liberation Serif', serif" font-weight="bold" fill="#000">0.94</text>
<line x1="72.5" y1="140.50" x2="74.5" y2="140.50" stroke="#404040" stroke-width="1"/>
<line x1="647.5" y1="140.50" x2="649.5" y2="140.50" stroke="#404040" stroke-width="1"/>
<line x1="70.5" y1="157.50" x2="74.5" y2="157.50" stroke="#404040" stroke-width="1"/>
<line x1="645.5" y1="157.50" x2="649.5" y2="157.50" stroke="#404040" stroke-width="1"/>
<text x="67.5" y="160.70" font-size="9.3" text-anchor="end" font-family="'Liberation Serif', serif" font-weight="bold" fill="#000">0.92</text>
<line x1="72.5" y1="174.50" x2="74.5" y2="174.50" stroke="#404040" stroke-width="1"/>
<line x1="647.5" y1="174.50" x2="649.5" y2="174.50" stroke="#404040" stroke-width="1"/>
<line x1="70.5" y1="191.50" x2="74.5" y2="191.50" stroke="#404040" stroke-width="1"/>
<line x1="645.5" y1="191.50" x2="649.5" y2="191.50" stroke="#404040" stroke-width="1"/>
<text x="67.5" y="194.70" font-size="9.3" text-anchor="end" font-family="'Liberation Serif', serif" font-weight="bold" fill="#000">0.90</text>
<line x1="74.5" y1="22.0" x2="650.0" y2="22.0" stroke="#6a6a6a" stroke-width="1.3"/>
<line x1="649.5" y1="22.0" x2="649.5" y2="199.9" stroke="#6a6a6a" stroke-width="1.1"/>
<line x1="74.0" y1="199.9" x2="650.0" y2="199.9" stroke="#203030" stroke-width="1.1"/>
<line x1="74.5" y1="18.0" x2="74.5" y2="203.9" stroke="#000" stroke-width="1.1"/><text x="362" y="232.3" font-size="10" text-anchor="middle" font-family="'Liberation Serif', serif" font-weight="bold" fill="#000">Network node (Number)</text><text transform="translate(44.0,110.6) rotate(-90)" font-size="13" text-anchor="middle" font-family="'Liberation Serif', serif" font-weight="bold" fill="#000">Voltage (pu)</text><line x1="134.2" y1="263.6" x2="158.39999999999998" y2="263.6" stroke="#000000" stroke-width="1.7"/>
<polygon points="146.30,260.00 147.19,262.38 149.72,262.49 147.74,264.07 148.42,266.51 146.30,265.11 144.18,266.51 144.86,264.07 142.88,262.49 145.41,262.38" fill="#808000" stroke="#404000" stroke-width="0.4"/>
<text x="161.2" y="267.10" font-size="10.3" font-family="'Liberation Serif', serif" font-weight="bold" fill="#000">Hour 1</text><line x1="194.9" y1="263.6" x2="219.1" y2="263.6" stroke="#ff0000" stroke-width="1.7"/>
<polygon points="207.00,260.00 207.89,262.38 210.42,262.49 208.44,264.07 209.12,266.51 207.00,265.11 204.88,266.51 205.56,264.07 203.58,262.49 206.11,262.38" fill="#e8e8e8" stroke="#808080" stroke-width="0.9"/>
<text x="221.9" y="267.10" font-size="10.3" font-family="'Liberation Serif', serif" font-weight="bold" fill="#000">Hour 2</text><line x1="254.8" y1="263.6" x2="279.0" y2="263.6" stroke="#00ff00" stroke-width="1.7"/>
<polygon points="264.80,263.60 268.58,261.50 268.58,265.70" fill="#ffffff" stroke="#707070" stroke-width="0.7"/>
<text x="281.8" y="267.10" font-size="10.3" font-family="'Liberation Serif', serif" font-weight="bold" fill="#000">Hour 3</text><line x1="315.7" y1="263.6" x2="339.9" y2="263.6" stroke="#0000ff" stroke-width="1.7"/>
<circle cx="327.80" cy="263.60" r="2.7" fill="#ffffff" stroke="#202020" stroke-width="0.5"/><path d="M327.80,260.90 A2.7,2.7 0 0 0 327.80,266.30 Z" fill="#000000"/>
<text x="342.7" y="267.10" font-size="10.3" font-family="'Liberation Serif', serif" font-weight="bold" fill="#000">Hour 4</text><line x1="376.6" y1="263.6" x2="400.8" y2="263.6" stroke="#00ffff" stroke-width="1.7"/>
<polygon points="386.40,261.99 391.00,261.99 388.70,265.79" fill="#ffb0b0" stroke="#ff2020" stroke-width="0.8"/>
<text x="403.6" y="267.10" font-size="10.3" font-family="'Liberation Serif', serif" font-weight="bold" fill="#000">Hour 5</text><line x1="436.8" y1="263.6" x2="461.0" y2="263.6" stroke="#ff00ff" stroke-width="1.7"/>
<polygon points="448.90,260.00 449.79,262.38 452.32,262.49 450.34,264.07 451.02,266.51 448.90,265.11 446.78,266.51 447.46,264.07 445.48,262.49 448.01,262.38" fill="#000000" stroke="none" stroke-width="0.5"/>
<text x="463.8" y="267.10" font-size="10.3" font-family="'Liberation Serif', serif" font-weight="bold" fill="#000">Hour 6</text><g clip-path="url(#cb)">
<polyline points="74.50,252.50 91.92,267.62 109.35,272.49 126.77,287.78 144.20,297.69 161.62,300.29 179.05,316.28 196.47,320.98 213.89,329.67 231.32,334.36 248.74,339.40 266.17,340.79 283.59,341.14 301.02,340.27 318.44,337.31 335.86,332.45 353.29,324.97 370.71,307.94 388.14,299.08 405.56,274.22 422.98,289.35 440.41,291.95 457.83,293.86 475.26,288.13 492.68,283.78 510.11,275.27 527.53,320.98 544.95,325.50 562.38,347.39 579.80,365.82 597.23,375.03 614.65,385.98 632.08,389.45 649.50,391.02" fill="none" stroke="#000000" stroke-width="1.4" stroke-linejoin="round"/>
<polygon points="74.50,248.90 75.39,251.28 77.92,251.39 75.94,252.97 76.62,255.41 74.50,254.01 72.38,255.41 73.06,252.97 71.08,251.39 73.61,251.28" fill="#808000" stroke="#404000" stroke-width="0.4"/>
<polygon points="91.92,264.02 92.81,266.40 95.35,266.51 93.36,268.09 94.04,270.53 91.92,269.13 89.81,270.53 90.49,268.09 88.50,266.51 91.04,266.40" fill="#808000" stroke="#404000" stroke-width="0.4"/>
<polygon points="109.35,268.89 110.24,271.26 112.77,271.37 110.79,272.95 111.46,275.40 109.35,274.00 107.23,275.40 107.91,272.95 105.92,271.37 108.46,271.26" fill="#808000" stroke="#404000" stroke-width="0.4"/>
<polygon points="126.77,284.18 127.66,286.56 130.20,286.67 128.21,288.25 128.89,290.69 126.77,289.29 124.66,290.69 125.33,288.25 123.35,286.67 125.88,286.56" fill="#808000" stroke="#404000" stroke-width="0.4"/>
<polygon points="144.20,294.09 145.09,296.46 147.62,296.58 145.63,298.16 146.31,300.60 144.20,299.20 142.08,300.60 142.76,298.16 140.77,296.58 143.31,296.46" fill="#808000" stroke="#404000" stroke-width="0.4"/>
<polygon points="161.62,296.69 162.51,299.07 165.05,299.18 163.06,300.76 163.74,303.21 161.62,301.81 159.51,303.21 160.18,300.76 158.20,299.18 160.73,299.07" fill="#808000" stroke="#404000" stroke-width="0.4"/>
<polygon points="179.05,312.68 179.93,315.06 182.47,315.17 180.48,316.75 181.16,319.20 179.05,317.80 176.93,319.20 177.61,316.75 175.62,315.17 178.16,315.06" fill="#808000" stroke="#404000" stroke-width="0.4"/>
<polygon points="196.47,317.38 197.36,319.75 199.89,319.86 197.91,321.44 198.59,323.89 196.47,322.49 194.35,323.89 195.03,321.44 193.05,319.86 195.58,319.75" fill="#808000" stroke="#404000" stroke-width="0.4"/>
<polygon points="213.89,326.07 214.78,328.44 217.32,328.55 215.33,330.13 216.01,332.58 213.89,331.18 211.78,332.58 212.46,330.13 210.47,328.55 213.01,328.44" fill="#808000" stroke="#404000" stroke-width="0.4"/>
<polygon points="231.32,330.76 232.21,333.14 234.74,333.25 232.76,334.83 233.43,337.27 231.32,335.87 229.20,337.27 229.88,334.83 227.89,333.25 230.43,333.14" fill="#808000" stroke="#404000" stroke-width="0.4"/>
<polygon points="248.74,335.80 249.63,338.18 252.17,338.29 250.18,339.87 250.86,342.31 248.74,340.91 246.63,342.31 247.30,339.87 245.32,338.29 247.85,338.18" fill="#808000" stroke="#404000" stroke-width="0.4"/>
<polygon points="266.17,337.19 267.06,339.57 269.59,339.68 267.60,341.26 268.28,343.70 266.17,342.30 264.05,343.70 264.73,341.26 262.74,339.68 265.28,339.57" fill="#808000" stroke="#404000" stroke-width="0.4"/>
<polygon points="283.59,337.54 284.48,339.91 287.01,340.03 285.03,341.61 285.71,344.05 283.59,342.65 281.47,344.05 282.15,341.61 280.17,340.03 282.70,339.91" fill="#808000" stroke="#404000" stroke-width="0.4"/>
<polygon points="301.02,336.67 301.90,339.05 304.44,339.16 302.45,340.74 303.13,343.18 301.02,341.78 298.90,343.18 299.58,340.74 297.59,339.16 300.13,339.05" fill="#808000" stroke="#404000" stroke-width="0.4"/>
<polygon points="318.44,333.71 319.33,336.09 321.86,336.20 319.88,337.78 320.56,340.23 318.44,338.83 316.32,340.23 317.00,337.78 315.02,336.20 317.55,336.09" fill="#808000" stroke="#404000" stroke-width="0.4"/>
<polygon points="335.86,328.85 336.75,331.22 339.29,331.34 337.30,332.92 337.98,335.36 335.86,333.96 333.75,335.36 334.43,332.92 332.44,331.34 334.97,331.22" fill="#808000" stroke="#404000" stroke-width="0.4"/>
<polygon points="353.29,321.37 354.18,323.75 356.71,323.86 354.73,325.44 355.40,327.89 353.29,326.49 351.17,327.89 351.85,325.44 349.86,323.86 352.40,323.75" fill="#808000" stroke="#404000" stroke-width="0.4"/>
<polygon points="370.71,304.34 371.60,306.72 374.14,306.83 372.15,308.41 372.83,310.85 370.71,309.45 368.60,310.85 369.27,308.41 367.29,306.83 369.82,306.72" fill="#808000" stroke="#404000" stroke-width="0.4"/>
<polygon points="388.14,295.48 389.03,297.86 391.56,297.97 389.57,299.55 390.25,301.99 388.14,300.59 386.02,301.99 386.70,299.55 384.71,297.97 387.25,297.86" fill="#808000" stroke="#404000" stroke-width="0.4"/>
<polygon points="405.56,270.62 406.45,273.00 408.98,273.11 407.00,274.69 407.68,277.14 405.56,275.74 403.44,277.14 404.12,274.69 402.14,273.11 404.67,273.00" fill="#808000" stroke="#404000" stroke-width="0.4"/>
<polygon points="422.98,285.75 423.87,288.12 426.41,288.23 424.42,289.81 425.10,292.26 422.98,290.86 420.87,292.26 421.55,289.81 419.56,288.23 422.10,288.12" fill="#808000" stroke="#404000" stroke-width="0.4"/>
<polygon points="440.41,288.35 441.30,290.73 443.83,290.84 441.85,292.42 442.53,294.87 440.41,293.46 438.29,294.87 438.97,292.42 436.99,290.84 439.52,290.73" fill="#808000" stroke="#404000" stroke-width="0.4"/>
<polygon points="457.83,290.26 458.72,292.64 461.26,292.75 459.27,294.33 459.95,296.78 457.83,295.38 455.72,296.78 456.40,294.33 454.41,292.75 456.94,292.64" fill="#808000" stroke="#404000" stroke-width="0.4"/>
<polygon points="475.26,284.53 476.15,286.91 478.68,287.02 476.70,288.60 477.37,291.04 475.26,289.64 473.14,291.04 473.82,288.60 471.83,287.02 474.37,286.91" fill="#808000" stroke="#404000" stroke-width="0.4"/>
<polygon points="492.68,280.18 493.57,282.56 496.11,282.67 494.12,284.25 494.80,286.70 492.68,285.30 490.57,286.70 491.24,284.25 489.26,282.67 491.79,282.56" fill="#808000" stroke="#404000" stroke-width="0.4"/>
<polygon points="510.11,271.67 510.99,274.04 513.53,274.16 511.54,275.74 512.22,278.18 510.11,276.78 507.99,278.18 508.67,275.74 506.68,274.16 509.22,274.04" fill="#808000" stroke="#404000" stroke-width="0.4"/>
<polygon points="527.53,317.38 528.42,319.75 530.95,319.86 528.97,321.44 529.65,323.89 527.53,322.49 525.41,323.89 526.09,321.44 524.11,319.86 526.64,319.75" fill="#808000" stroke="#404000" stroke-width="0.4"/>
<polygon points="544.95,321.90 545.84,324.27 548.38,324.38 546.39,325.96 547.07,328.41 544.95,327.01 542.84,328.41 543.52,325.96 541.53,324.38 544.07,324.27" fill="#808000" stroke="#404000" stroke-width="0.4"/>
<polygon points="562.38,343.79 563.27,346.17 565.80,346.28 563.82,347.86 564.49,350.31 562.38,348.91 560.26,350.31 560.94,347.86 558.95,346.28 561.49,346.17" fill="#808000" stroke="#404000" stroke-width="0.4"/>
<polygon points="579.80,362.22 580.69,364.59 583.23,364.71 581.24,366.28 581.92,368.73 579.80,367.33 577.69,368.73 578.37,366.28 576.38,364.71 578.91,364.59" fill="#808000" stroke="#404000" stroke-width="0.4"/>
<polygon points="597.23,371.43 598.12,373.81 600.65,373.92 598.67,375.50 599.34,377.94 597.23,376.54 595.11,377.94 595.79,375.50 593.80,373.92 596.34,373.81" fill="#808000" stroke="#404000" stroke-width="0.4"/>
<polygon points="614.65,382.38 615.54,384.76 618.08,384.87 616.09,386.45 616.77,388.89 614.65,387.49 612.54,388.89 613.21,386.45 611.23,384.87 613.76,384.76" fill="#808000" stroke="#404000" stroke-width="0.4"/>
<polygon points="632.08,385.85 632.96,388.23 635.50,388.34 633.51,389.92 634.19,392.37 632.08,390.97 629.96,392.37 630.64,389.92 628.65,388.34 631.19,388.23" fill="#808000" stroke="#404000" stroke-width="0.4"/>
<polygon points="649.50,387.42 650.39,389.80 652.92,389.91 650.94,391.49 651.62,393.93 649.50,392.53 647.38,393.93 648.06,391.49 646.08,389.91 648.61,389.80" fill="#808000" stroke="#404000" stroke-width="0.4"/>
<polyline points="74.50,252.50 91.92,267.62 109.35,272.49 126.77,287.78 144.20,297.69 161.62,300.29 179.05,308.64 196.47,311.07 213.89,309.33 231.32,314.20 248.74,318.54 266.17,319.07 283.59,321.32 301.02,324.97 318.44,324.11 335.86,319.93 353.29,314.03 370.71,299.08 388.14,289.35 405.56,274.22 422.98,289.35 440.41,291.95 457.83,293.86 475.26,288.13 492.68,283.78 510.11,275.27 527.53,313.33 544.95,316.46 562.38,344.61 579.80,364.08 597.23,374.33 614.65,385.98 632.08,389.45 649.50,391.02" fill="none" stroke="#ff0000" stroke-width="1.4" stroke-linejoin="round"/>
<polygon points="74.50,248.90 75.39,251.28 77.92,251.39 75.94,252.97 76.62,255.41 74.50,254.01 72.38,255.41 73.06,252.97 71.08,251.39 73.61,251.28" fill="#e8e8e8" stroke="#808080" stroke-width="0.9"/>
<polygon points="91.92,264.02 92.81,266.40 95.35,266.51 93.36,268.09 94.04,270.53 91.92,269.13 89.81,270.53 90.49,268.09 88.50,266.51 91.04,266.40" fill="#e8e8e8" stroke="#808080" stroke-width="0.9"/>
<polygon points="109.35,268.89 110.24,271.26 112.77,271.37 110.79,272.95 111.46,275.40 109.35,274.00 107.23,275.40 107.91,272.95 105.92,271.37 108.46,271.26" fill="#e8e8e8" stroke="#808080" stroke-width="0.9"/>
<polygon points="126.77,284.18 127.66,286.56 130.20,286.67 128.21,288.25 128.89,290.69 126.77,289.29 124.66,290.69 125.33,288.25 123.35,286.67 125.88,286.56" fill="#e8e8e8" stroke="#808080" stroke-width="0.9"/>
<polygon points="144.20,294.09 145.09,296.46 147.62,296.58 145.63,298.16 146.31,300.60 144.20,299.20 142.08,300.60 142.76,298.16 140.77,296.58 143.31,296.46" fill="#e8e8e8" stroke="#808080" stroke-width="0.9"/>
<polygon points="161.62,296.69 162.51,299.07 165.05,299.18 163.06,300.76 163.74,303.21 161.62,301.81 159.51,303.21 160.18,300.76 158.20,299.18 160.73,299.07" fill="#e8e8e8" stroke="#808080" stroke-width="0.9"/>
<polygon points="179.05,305.04 179.93,307.41 182.47,307.52 180.48,309.10 181.16,311.55 179.05,310.15 176.93,311.55 177.61,309.10 175.62,307.52 178.16,307.41" fill="#e8e8e8" stroke="#808080" stroke-width="0.9"/>
<polygon points="196.47,307.47 197.36,309.85 199.89,309.96 197.91,311.54 198.59,313.98 196.47,312.58 194.35,313.98 195.03,311.54 193.05,309.96 195.58,309.85" fill="#e8e8e8" stroke="#808080" stroke-width="0.9"/>
<polygon points="213.89,305.73 214.78,308.11 217.32,308.22 215.33,309.80 216.01,312.25 213.89,310.84 211.78,312.25 212.46,309.80 210.47,308.22 213.01,308.11" fill="#e8e8e8" stroke="#808080" stroke-width="0.9"/>
<polygon points="231.32,310.60 232.21,312.98 234.74,313.09 232.76,314.67 233.43,317.11 231.32,315.71 229.20,317.11 229.88,314.67 227.89,313.09 230.43,312.98" fill="#e8e8e8" stroke="#808080" stroke-width="0.9"/>
<polygon points="248.74,314.94 249.63,317.32 252.17,317.43 250.18,319.01 250.86,321.46 248.74,320.06 246.63,321.46 247.30,319.01 245.32,317.43 247.85,317.32" fill="#e8e8e8" stroke="#808080" stroke-width="0.9"/>
<polygon points="266.17,315.47 267.06,317.84 269.59,317.95 267.60,319.53 268.28,321.98 266.17,320.58 264.05,321.98 264.73,319.53 262.74,317.95 265.28,317.84" fill="#e8e8e8" stroke="#808080" stroke-width="0.9"/>
<polygon points="283.59,317.72 284.48,320.10 287.01,320.21 285.03,321.79 285.71,324.24 283.59,322.84 281.47,324.24 282.15,321.79 280.17,320.21 282.70,320.10" fill="#e8e8e8" stroke="#808080" stroke-width="0.9"/>
<polygon points="301.02,321.37 301.90,323.75 304.44,323.86 302.45,325.44 303.13,327.89 301.02,326.49 298.90,327.89 299.58,325.44 297.59,323.86 300.13,323.75" fill="#e8e8e8" stroke="#808080" stroke-width="0.9"/>
<polygon points="318.44,320.51 319.33,322.88 321.86,322.99 319.88,324.57 320.56,327.02 318.44,325.62 316.32,327.02 317.00,324.57 315.02,322.99 317.55,322.88" fill="#e8e8e8" stroke="#808080" stroke-width="0.9"/>
<polygon points="335.86,316.33 336.75,318.71 339.29,318.82 337.30,320.40 337.98,322.85 335.86,321.45 333.75,322.85 334.43,320.40 332.44,318.82 334.97,318.71" fill="#e8e8e8" stroke="#808080" stroke-width="0.9"/>
<polygon points="353.29,310.43 354.18,312.80 356.71,312.91 354.73,314.49 355.40,316.94 353.29,315.54 351.17,316.94 351.85,314.49 349.86,312.91 352.40,312.80" fill="#e8e8e8" stroke="#808080" stroke-width="0.9"/>
<polygon points="370.71,295.48 371.60,297.86 374.14,297.97 372.15,299.55 372.83,301.99 370.71,300.59 368.60,301.99 369.27,299.55 367.29,297.97 369.82,297.86" fill="#e8e8e8" stroke="#808080" stroke-width="0.9"/>
<polygon points="388.14,285.75 389.03,288.12 391.56,288.23 389.57,289.81 390.25,292.26 388.14,290.86 386.02,292.26 386.70,289.81 384.71,288.23 387.25,288.12" fill="#e8e8e8" stroke="#808080" stroke-width="0.9"/>
<polygon points="405.56,270.62 406.45,273.00 408.98,273.11 407.00,274.69 407.68,277.14 405.56,275.74 403.44,277.14 404.12,274.69 402.14,273.11 404.67,273.00" fill="#e8e8e8" stroke="#808080" stroke-width="0.9"/>
<polygon points="422.98,285.75 423.87,288.12 426.41,288.23 424.42,289.81 425.10,292.26 422.98,290.86 420.87,292.26 421.55,289.81 419.56,288.23 422.10,288.12" fill="#e8e8e8" stroke="#808080" stroke-width="0.9"/>
<polygon points="440.41,288.35 441.30,290.73 443.83,290.84 441.85,292.42 442.53,294.87 440.41,293.46 438.29,294.87 438.97,292.42 436.99,290.84 439.52,290.73" fill="#e8e8e8" stroke="#808080" stroke-width="0.9"/>
<polygon points="457.83,290.26 458.72,292.64 461.26,292.75 459.27,294.33 459.95,296.78 457.83,295.38 455.72,296.78 456.40,294.33 454.41,292.75 456.94,292.64" fill="#e8e8e8" stroke="#808080" stroke-width="0.9"/>
<polygon points="475.26,284.53 476.15,286.91 478.68,287.02 476.70,288.60 477.37,291.04 475.26,289.64 473.14,291.04 473.82,288.60 471.83,287.02 474.37,286.91" fill="#e8e8e8" stroke="#808080" stroke-width="0.9"/>
<polygon points="492.68,280.18 493.57,282.56 496.11,282.67 494.12,284.25 494.80,286.70 492.68,285.30 490.57,286.70 491.24,284.25 489.26,282.67 491.79,282.56" fill="#e8e8e8" stroke="#808080" stroke-width="0.9"/>
<polygon points="510.11,271.67 510.99,274.04 513.53,274.16 511.54,275.74 512.22,278.18 510.11,276.78 507.99,278.18 508.67,275.74 506.68,274.16 509.22,274.04" fill="#e8e8e8" stroke="#808080" stroke-width="0.9"/>
<polygon points="527.53,309.73 528.42,312.11 530.95,312.22 528.97,313.80 529.65,316.24 527.53,314.84 525.41,316.24 526.09,313.80 524.11,312.22 526.64,312.11" fill="#e8e8e8" stroke="#808080" stroke-width="0.9"/>
<polygon points="544.95,312.86 545.84,315.24 548.38,315.35 546.39,316.93 547.07,319.37 544.95,317.97 542.84,319.37 543.52,316.93 541.53,315.35 544.07,315.24" fill="#e8e8e8" stroke="#808080" stroke-width="0.9"/>
<polygon points="562.38,341.01 563.27,343.39 565.80,343.50 563.82,345.08 564.49,347.53 562.38,346.13 560.26,347.53 560.94,345.08 558.95,343.50 561.49,343.39" fill="#e8e8e8" stroke="#808080" stroke-width="0.9"/>
<polygon points="579.80,360.48 580.69,362.86 583.23,362.97 581.24,364.55 581.92,366.99 579.80,365.59 577.69,366.99 578.37,364.55 576.38,362.97 578.91,362.86" fill="#e8e8e8" stroke="#808080" stroke-width="0.9"/>
<polygon points="597.23,370.73 598.12,373.11 600.65,373.22 598.67,374.80 599.34,377.25 597.23,375.85 595.11,377.25 595.79,374.80 593.80,373.22 596.34,373.11" fill="#e8e8e8" stroke="#808080" stroke-width="0.9"/>
<polygon points="614.65,382.38 615.54,384.76 618.08,384.87 616.09,386.45 616.77,388.89 614.65,387.49 612.54,388.89 613.21,386.45 611.23,384.87 613.76,384.76" fill="#e8e8e8" stroke="#808080" stroke-width="0.9"/>
<polygon points="632.08,385.85 632.96,388.23 635.50,388.34 633.51,389.92 634.19,392.37 632.08,390.97 629.96,392.37 630.64,389.92 628.65,388.34 631.19,388.23" fill="#e8e8e8" stroke="#808080" stroke-width="0.9"/>
<polygon points="649.50,387.42 650.39,389.80 652.92,389.91 650.94,391.49 651.62,393.93 649.50,392.53 647.38,393.93 648.06,391.49 646.08,389.91 648.61,389.80" fill="#e8e8e8" stroke="#808080" stroke-width="0.9"/>
<polyline points="74.50,252.50 91.92,267.62 109.35,272.49 126.77,287.78 144.20,297.69 161.62,302.03 179.05,321.50 196.47,327.06 213.89,342.01 231.32,351.74 248.74,361.65 266.17,362.86 283.59,364.77 301.02,367.73 318.44,365.99 335.86,361.99 353.29,355.04 370.71,338.53 388.14,329.49 405.56,274.22 422.98,289.35 440.41,291.95 457.83,293.86 475.26,288.13 492.68,283.78 510.11,275.27 527.53,324.63 544.95,327.93 562.38,349.83 579.80,366.69 597.23,375.38 614.65,385.98 632.08,389.45 649.50,391.02" fill="none" stroke="#00ff00" stroke-width="1.4" stroke-linejoin="round"/>
<polygon points="72.40,252.50 76.18,250.40 76.18,254.60" fill="#ffffff" stroke="#707070" stroke-width="0.7"/>
<polygon points="89.82,267.62 93.60,265.52 93.60,269.72" fill="#ffffff" stroke="#707070" stroke-width="0.7"/>
<polygon points="107.25,272.49 111.03,270.39 111.03,274.59" fill="#ffffff" stroke="#707070" stroke-width="0.7"/>
<polygon points="124.67,287.78 128.45,285.68 128.45,289.88" fill="#ffffff" stroke="#707070" stroke-width="0.7"/>
<polygon points="142.10,297.69 145.88,295.59 145.88,299.79" fill="#ffffff" stroke="#707070" stroke-width="0.7"/>
<polygon points="159.52,302.03 163.30,299.93 163.30,304.13" fill="#ffffff" stroke="#707070" stroke-width="0.7"/>
<polygon points="176.95,321.50 180.73,319.40 180.73,323.60" fill="#ffffff" stroke="#707070" stroke-width="0.7"/>
<polygon points="194.37,327.06 198.15,324.96 198.15,329.16" fill="#ffffff" stroke="#707070" stroke-width="0.7"/>
<polygon points="211.79,342.01 215.57,339.91 215.57,344.11" fill="#ffffff" stroke="#707070" stroke-width="0.7"/>
<polygon points="229.22,351.74 233.00,349.64 233.00,353.84" fill="#ffffff" stroke="#707070" stroke-width="0.7"/>
<polygon points="246.64,361.65 250.42,359.55 250.42,363.75" fill="#ffffff" stroke="#707070" stroke-width="0.7"/>
<polygon points="264.07,362.86 267.85,360.76 267.85,364.96" fill="#ffffff" stroke="#707070" stroke-width="0.7"/>
<polygon points="281.49,364.77 285.27,362.67 285.27,366.87" fill="#ffffff" stroke="#707070" stroke-width="0.7"/>
<polygon points="298.92,367.73 302.70,365.63 302.70,369.83" fill="#ffffff" stroke="#707070" stroke-width="0.7"/>
<polygon points="316.34,365.99 320.12,363.89 320.12,368.09" fill="#ffffff" stroke="#707070" stroke-width="0.7"/>
<polygon points="333.76,361.99 337.54,359.89 337.54,364.09" fill="#ffffff" stroke="#707070" stroke-width="0.7"/>
<polygon points="351.19,355.04 354.97,352.94 354.97,357.14" fill="#ffffff" stroke="#707070" stroke-width="0.7"/>
<polygon points="368.61,338.53 372.39,336.43 372.39,340.63" fill="#ffffff" stroke="#707070" stroke-width="0.7"/>
<polygon points="386.04,329.49 389.82,327.39 389.82,331.59" fill="#ffffff" stroke="#707070" stroke-width="0.7"/>
<polygon points="403.46,274.22 407.24,272.12 407.24,276.32" fill="#ffffff" stroke="#707070" stroke-width="0.7"/>
<polygon points="420.88,289.35 424.66,287.25 424.66,291.45" fill="#ffffff" stroke="#707070" stroke-width="0.7"/>
<polygon points="438.31,291.95 442.09,289.85 442.09,294.05" fill="#ffffff" stroke="#707070" stroke-width="0.7"/>
<polygon points="455.73,293.86 459.51,291.76 459.51,295.96" fill="#ffffff" stroke="#707070" stroke-width="0.7"/>
<polygon points="473.16,288.13 476.94,286.03 476.94,290.23" fill="#ffffff" stroke="#707070" stroke-width="0.7"/>
<polygon points="490.58,283.78 494.36,281.68 494.36,285.88" fill="#ffffff" stroke="#707070" stroke-width="0.7"/>
<polygon points="508.01,275.27 511.79,273.17 511.79,277.37" fill="#ffffff" stroke="#707070" stroke-width="0.7"/>
<polygon points="525.43,324.63 529.21,322.53 529.21,326.73" fill="#ffffff" stroke="#707070" stroke-width="0.7"/>
<polygon points="542.85,327.93 546.63,325.83 546.63,330.03" fill="#ffffff" stroke="#707070" stroke-width="0.7"/>
<polygon points="560.28,349.83 564.06,347.73 564.06,351.93" fill="#ffffff" stroke="#707070" stroke-width="0.7"/>
<polygon points="577.70,366.69 581.48,364.59 581.48,368.79" fill="#ffffff" stroke="#707070" stroke-width="0.7"/>
<polygon points="595.13,375.38 598.91,373.28 598.91,377.48" fill="#ffffff" stroke="#707070" stroke-width="0.7"/>
<polygon points="612.55,385.98 616.33,383.88 616.33,388.08" fill="#ffffff" stroke="#707070" stroke-width="0.7"/>
<polygon points="629.98,389.45 633.76,387.35 633.76,391.55" fill="#ffffff" stroke="#707070" stroke-width="0.7"/>
<polygon points="647.40,391.02 651.18,388.92 651.18,393.12" fill="#ffffff" stroke="#707070" stroke-width="0.7"/>
<polyline points="74.50,252.50 91.92,267.62 109.35,272.49 126.77,287.78 144.20,297.69 161.62,304.64 179.05,323.93 196.47,332.97 213.89,353.48 231.32,366.34 248.74,378.68 266.17,380.76 283.59,382.85 301.02,389.45 318.44,388.59 335.86,385.28 353.29,378.33 370.71,362.52 388.14,353.48 405.56,274.22 422.98,289.35 440.41,291.95 457.83,293.86 475.26,288.13 492.68,283.78 510.11,275.27 527.53,328.80 544.95,333.84 562.38,355.56 579.80,373.12 597.23,379.90 614.65,393.45 632.08,397.28 649.50,399.19" fill="none" stroke="#0000ff" stroke-width="1.4" stroke-linejoin="round"/>
<circle cx="74.50" cy="252.50" r="2.7" fill="#ffffff" stroke="#202020" stroke-width="0.5"/><path d="M74.50,249.80 A2.7,2.7 0 0 0 74.50,255.20 Z" fill="#000000"/>
<circle cx="91.92" cy="267.62" r="2.7" fill="#ffffff" stroke="#202020" stroke-width="0.5"/><path d="M91.92,264.92 A2.7,2.7 0 0 0 91.92,270.32 Z" fill="#000000"/>
<circle cx="109.35" cy="272.49" r="2.7" fill="#ffffff" stroke="#202020" stroke-width="0.5"/><path d="M109.35,269.79 A2.7,2.7 0 0 0 109.35,275.19 Z" fill="#000000"/>
<circle cx="126.77" cy="287.78" r="2.7" fill="#ffffff" stroke="#202020" stroke-width="0.5"/><path d="M126.77,285.08 A2.7,2.7 0 0 0 126.77,290.48 Z" fill="#000000"/>
<circle cx="144.20" cy="297.69" r="2.7" fill="#ffffff" stroke="#202020" stroke-width="0.5"/><path d="M144.20,294.99 A2.7,2.7 0 0 0 144.20,300.39 Z" fill="#000000"/>
<circle cx="161.62" cy="304.64" r="2.7" fill="#ffffff" stroke="#202020" stroke-width="0.5"/><path d="M161.62,301.94 A2.7,2.7 0 0 0 161.62,307.34 Z" fill="#000000"/>
<circle cx="179.05" cy="323.93" r="2.7" fill="#ffffff" stroke="#202020" stroke-width="0.5"/><path d="M179.05,321.23 A2.7,2.7 0 0 0 179.05,326.63 Z" fill="#000000"/>
<circle cx="196.47" cy="332.97" r="2.7" fill="#ffffff" stroke="#202020" stroke-width="0.5"/><path d="M196.47,330.27 A2.7,2.7 0 0 0 196.47,335.67 Z" fill="#000000"/>
<circle cx="213.89" cy="353.48" r="2.7" fill="#ffffff" stroke="#202020" stroke-width="0.5"/><path d="M213.89,350.78 A2.7,2.7 0 0 0 213.89,356.18 Z" fill="#000000"/>
<circle cx="231.32" cy="366.34" r="2.7" fill="#ffffff" stroke="#202020" stroke-width="0.5"/><path d="M231.32,363.64 A2.7,2.7 0 0 0 231.32,369.04 Z" fill="#000000"/>
<circle cx="248.74" cy="378.68" r="2.7" fill="#ffffff" stroke="#202020" stroke-width="0.5"/><path d="M248.74,375.98 A2.7,2.7 0 0 0 248.74,381.38 Z" fill="#000000"/>
<circle cx="266.17" cy="380.76" r="2.7" fill="#ffffff" stroke="#202020" stroke-width="0.5"/><path d="M266.17,378.06 A2.7,2.7 0 0 0 266.17,383.46 Z" fill="#000000"/>
<circle cx="283.59" cy="382.85" r="2.7" fill="#ffffff" stroke="#202020" stroke-width="0.5"/><path d="M283.59,380.15 A2.7,2.7 0 0 0 283.59,385.55 Z" fill="#000000"/>
<circle cx="301.02" cy="389.45" r="2.7" fill="#ffffff" stroke="#202020" stroke-width="0.5"/><path d="M301.02,386.75 A2.7,2.7 0 0 0 301.02,392.15 Z" fill="#000000"/>
<circle cx="318.44" cy="388.59" r="2.7" fill="#ffffff" stroke="#202020" stroke-width="0.5"/><path d="M318.44,385.89 A2.7,2.7 0 0 0 318.44,391.29 Z" fill="#000000"/>
<circle cx="335.86" cy="385.28" r="2.7" fill="#ffffff" stroke="#202020" stroke-width="0.5"/><path d="M335.86,382.58 A2.7,2.7 0 0 0 335.86,387.98 Z" fill="#000000"/>
<circle cx="353.29" cy="378.33" r="2.7" fill="#ffffff" stroke="#202020" stroke-width="0.5"/><path d="M353.29,375.63 A2.7,2.7 0 0 0 353.29,381.03 Z" fill="#000000"/>
<circle cx="370.71" cy="362.52" r="2.7" fill="#ffffff" stroke="#202020" stroke-width="0.5"/><path d="M370.71,359.82 A2.7,2.7 0 0 0 370.71,365.22 Z" fill="#000000"/>
<circle cx="388.14" cy="353.48" r="2.7" fill="#ffffff" stroke="#202020" stroke-width="0.5"/><path d="M388.14,350.78 A2.7,2.7 0 0 0 388.14,356.18 Z" fill="#000000"/>
<circle cx="405.56" cy="274.22" r="2.7" fill="#ffffff" stroke="#202020" stroke-width="0.5"/><path d="M405.56,271.52 A2.7,2.7 0 0 0 405.56,276.92 Z" fill="#000000"/>
<circle cx="422.98" cy="289.35" r="2.7" fill="#ffffff" stroke="#202020" stroke-width="0.5"/><path d="M422.98,286.65 A2.7,2.7 0 0 0 422.98,292.05 Z" fill="#000000"/>
<circle cx="440.41" cy="291.95" r="2.7" fill="#ffffff" stroke="#202020" stroke-width="0.5"/><path d="M440.41,289.25 A2.7,2.7 0 0 0 440.41,294.65 Z" fill="#000000"/>
<circle cx="457.83" cy="293.86" r="2.7" fill="#ffffff" stroke="#202020" stroke-width="0.5"/><path d="M457.83,291.16 A2.7,2.7 0 0 0 457.83,296.56 Z" fill="#000000"/>
<circle cx="475.26" cy="288.13" r="2.7" fill="#ffffff" stroke="#202020" stroke-width="0.5"/><path d="M475.26,285.43 A2.7,2.7 0 0 0 475.26,290.83 Z" fill="#000000"/>
<circle cx="492.68" cy="283.78" r="2.7" fill="#ffffff" stroke="#202020" stroke-width="0.5"/><path d="M492.68,281.08 A2.7,2.7 0 0 0 492.68,286.48 Z" fill="#000000"/>
<circle cx="510.11" cy="275.27" r="2.7" fill="#ffffff" stroke="#202020" stroke-width="0.5"/><path d="M510.11,272.57 A2.7,2.7 0 0 0 510.11,277.97 Z" fill="#000000"/>
<circle cx="527.53" cy="328.80" r="2.7" fill="#ffffff" stroke="#202020" stroke-width="0.5"/><path d="M527.53,326.10 A2.7,2.7 0 0 0 527.53,331.50 Z" fill="#000000"/>
<circle cx="544.95" cy="333.84" r="2.7" fill="#ffffff" stroke="#202020" stroke-width="0.5"/><path d="M544.95,331.14 A2.7,2.7 0 0 0 544.95,336.54 Z" fill="#000000"/>
<circle cx="562.38" cy="355.56" r="2.7" fill="#ffffff" stroke="#202020" stroke-width="0.5"/><path d="M562.38,352.86 A2.7,2.7 0 0 0 562.38,358.26 Z" fill="#000000"/>
<circle cx="579.80" cy="373.12" r="2.7" fill="#ffffff" stroke="#202020" stroke-width="0.5"/><path d="M579.80,370.42 A2.7,2.7 0 0 0 579.80,375.82 Z" fill="#000000"/>
<circle cx="597.23" cy="379.90" r="2.7" fill="#ffffff" stroke="#202020" stroke-width="0.5"/><path d="M597.23,377.20 A2.7,2.7 0 0 0 597.23,382.60 Z" fill="#000000"/>
<circle cx="614.65" cy="393.45" r="2.7" fill="#ffffff" stroke="#202020" stroke-width="0.5"/><path d="M614.65,390.75 A2.7,2.7 0 0 0 614.65,396.15 Z" fill="#000000"/>
<circle cx="632.08" cy="397.28" r="2.7" fill="#ffffff" stroke="#202020" stroke-width="0.5"/><path d="M632.08,394.58 A2.7,2.7 0 0 0 632.08,399.98 Z" fill="#000000"/>
<circle cx="649.50" cy="399.19" r="2.7" fill="#ffffff" stroke="#202020" stroke-width="0.5"/><path d="M649.50,396.49 A2.7,2.7 0 0 0 649.50,401.89 Z" fill="#000000"/>
<polyline points="74.50,252.50 91.92,267.62 109.35,272.49 126.77,287.78 144.20,297.69 161.62,296.99 179.05,296.47 196.47,293.86 213.89,277.18 231.32,278.57 248.74,279.27 266.17,278.92 283.59,281.87 301.02,289.52 318.44,290.39 335.86,289.17 353.29,285.52 370.71,275.62 388.14,269.88 405.56,274.22 422.98,289.35 440.41,291.95 457.83,293.86 475.26,288.13 492.68,283.78 510.11,275.27 527.53,299.25 544.95,304.81 562.38,336.45 579.80,361.47 597.23,372.42 614.65,383.72 632.08,386.15 649.50,388.24" fill="none" stroke="#00ffff" stroke-width="1.4" stroke-linejoin="round"/>
<polygon points="72.20,250.89 76.80,250.89 74.50,254.69" fill="#ffb0b0" stroke="#ff2020" stroke-width="0.8"/>
<polygon points="89.62,266.01 94.22,266.01 91.92,269.81" fill="#ffb0b0" stroke="#ff2020" stroke-width="0.8"/>
<polygon points="107.05,270.88 111.65,270.88 109.35,274.67" fill="#ffb0b0" stroke="#ff2020" stroke-width="0.8"/>
<polygon points="124.47,286.17 129.07,286.17 126.77,289.97" fill="#ffb0b0" stroke="#ff2020" stroke-width="0.8"/>
<polygon points="141.90,296.08 146.50,296.08 144.20,299.87" fill="#ffb0b0" stroke="#ff2020" stroke-width="0.8"/>
<polygon points="159.32,295.38 163.92,295.38 161.62,299.18" fill="#ffb0b0" stroke="#ff2020" stroke-width="0.8"/>
<polygon points="176.75,294.86 181.35,294.86 179.05,298.66" fill="#ffb0b0" stroke="#ff2020" stroke-width="0.8"/>
<polygon points="194.17,292.25 198.77,292.25 196.47,296.05" fill="#ffb0b0" stroke="#ff2020" stroke-width="0.8"/>
<polygon points="211.59,275.57 216.19,275.57 213.89,279.36" fill="#ffb0b0" stroke="#ff2020" stroke-width="0.8"/>
<polygon points="229.02,276.96 233.62,276.96 231.32,280.76" fill="#ffb0b0" stroke="#ff2020" stroke-width="0.8"/>
<polygon points="246.44,277.66 251.04,277.66 248.74,281.45" fill="#ffb0b0" stroke="#ff2020" stroke-width="0.8"/>
<polygon points="263.87,277.31 268.47,277.31 266.17,281.10" fill="#ffb0b0" stroke="#ff2020" stroke-width="0.8"/>
<polygon points="281.29,280.26 285.89,280.26 283.59,284.06" fill="#ffb0b0" stroke="#ff2020" stroke-width="0.8"/>
<polygon points="298.72,287.91 303.32,287.91 301.02,291.70" fill="#ffb0b0" stroke="#ff2020" stroke-width="0.8"/>
<polygon points="316.14,288.78 320.74,288.78 318.44,292.57" fill="#ffb0b0" stroke="#ff2020" stroke-width="0.8"/>
<polygon points="333.56,287.56 338.16,287.56 335.86,291.36" fill="#ffb0b0" stroke="#ff2020" stroke-width="0.8"/>
<polygon points="350.99,283.91 355.59,283.91 353.29,287.71" fill="#ffb0b0" stroke="#ff2020" stroke-width="0.8"/>
<polygon points="368.41,274.01 373.01,274.01 370.71,277.80" fill="#ffb0b0" stroke="#ff2020" stroke-width="0.8"/>
<polygon points="385.84,268.27 390.44,268.27 388.14,272.06" fill="#ffb0b0" stroke="#ff2020" stroke-width="0.8"/>
<polygon points="403.26,272.61 407.86,272.61 405.56,276.41" fill="#ffb0b0" stroke="#ff2020" stroke-width="0.8"/>
<polygon points="420.68,287.74 425.28,287.74 422.98,291.53" fill="#ffb0b0" stroke="#ff2020" stroke-width="0.8"/>
<polygon points="438.11,290.34 442.71,290.34 440.41,294.14" fill="#ffb0b0" stroke="#ff2020" stroke-width="0.8"/>
<polygon points="455.53,292.25 460.13,292.25 457.83,296.05" fill="#ffb0b0" stroke="#ff2020" stroke-width="0.8"/>
<polygon points="472.96,286.52 477.56,286.52 475.26,290.31" fill="#ffb0b0" stroke="#ff2020" stroke-width="0.8"/>
<polygon points="490.38,282.17 494.98,282.17 492.68,285.97" fill="#ffb0b0" stroke="#ff2020" stroke-width="0.8"/>
<polygon points="507.81,273.66 512.41,273.66 510.11,277.45" fill="#ffb0b0" stroke="#ff2020" stroke-width="0.8"/>
<polygon points="525.23,297.64 529.83,297.64 527.53,301.44" fill="#ffb0b0" stroke="#ff2020" stroke-width="0.8"/>
<polygon points="542.65,303.20 547.25,303.20 544.95,307.00" fill="#ffb0b0" stroke="#ff2020" stroke-width="0.8"/>
<polygon points="560.08,334.84 564.68,334.84 562.38,338.63" fill="#ffb0b0" stroke="#ff2020" stroke-width="0.8"/>
<polygon points="577.50,359.86 582.10,359.86 579.80,363.66" fill="#ffb0b0" stroke="#ff2020" stroke-width="0.8"/>
<polygon points="594.93,370.81 599.53,370.81 597.23,374.61" fill="#ffb0b0" stroke="#ff2020" stroke-width="0.8"/>
<polygon points="612.35,382.11 616.95,382.11 614.65,385.90" fill="#ffb0b0" stroke="#ff2020" stroke-width="0.8"/>
<polygon points="629.78,384.54 634.38,384.54 632.08,388.34" fill="#ffb0b0" stroke="#ff2020" stroke-width="0.8"/>
<polygon points="647.20,386.63 651.80,386.63 649.50,390.42" fill="#ffb0b0" stroke="#ff2020" stroke-width="0.8"/>
<polyline points="74.50,252.50 91.92,267.62 109.35,272.49 126.77,287.78 144.20,297.69 161.62,300.29 179.05,306.03 196.47,308.12 213.89,302.90 231.32,308.12 248.74,312.46 266.17,312.63 283.59,315.59 301.02,322.02 318.44,321.50 335.86,317.67 353.29,311.59 370.71,296.65 388.14,287.61 405.56,274.22 422.98,289.35 440.41,291.95 457.83,293.86 475.26,288.13 492.68,283.78 510.11,275.27 527.53,310.03 544.95,313.85 562.38,342.18 579.80,362.69 597.23,373.46 614.65,386.85 632.08,390.15 649.50,392.24" fill="none" stroke="#ff00ff" stroke-width="1.4" stroke-linejoin="round"/>
<polygon points="74.50,248.90 75.39,251.28 77.92,251.39 75.94,252.97 76.62,255.41 74.50,254.01 72.38,255.41 73.06,252.97 71.08,251.39 73.61,251.28" fill="#000000" stroke="none" stroke-width="0.5"/>
<polygon points="91.92,264.02 92.81,266.40 95.35,266.51 93.36,268.09 94.04,270.53 91.92,269.13 89.81,270.53 90.49,268.09 88.50,266.51 91.04,266.40" fill="#000000" stroke="none" stroke-width="0.5"/>
<polygon points="109.35,268.89 110.24,271.26 112.77,271.37 110.79,272.95 111.46,275.40 109.35,274.00 107.23,275.40 107.91,272.95 105.92,271.37 108.46,271.26" fill="#000000" stroke="none" stroke-width="0.5"/>
<polygon points="126.77,284.18 127.66,286.56 130.20,286.67 128.21,288.25 128.89,290.69 126.77,289.29 124.66,290.69 125.33,288.25 123.35,286.67 125.88,286.56" fill="#000000" stroke="none" stroke-width="0.5"/>
<polygon points="144.20,294.09 145.09,296.46 147.62,296.58 145.63,298.16 146.31,300.60 144.20,299.20 142.08,300.60 142.76,298.16 140.77,296.58 143.31,296.46" fill="#000000" stroke="none" stroke-width="0.5"/>
<polygon points="161.62,296.69 162.51,299.07 165.05,299.18 163.06,300.76 163.74,303.21 161.62,301.81 159.51,303.21 160.18,300.76 158.20,299.18 160.73,299.07" fill="#000000" stroke="none" stroke-width="0.5"/>
<polygon points="179.05,302.43 179.93,304.81 182.47,304.92 180.48,306.50 181.16,308.94 179.05,307.54 176.93,308.94 177.61,306.50 175.62,304.92 178.16,304.81" fill="#000000" stroke="none" stroke-width="0.5"/>
<polygon points="196.47,304.52 197.36,306.89 199.89,307.00 197.91,308.58 198.59,311.03 196.47,309.63 194.35,311.03 195.03,308.58 193.05,307.00 195.58,306.89" fill="#000000" stroke="none" stroke-width="0.5"/>
<polygon points="213.89,299.30 214.78,301.68 217.32,301.79 215.33,303.37 216.01,305.81 213.89,304.41 211.78,305.81 212.46,303.37 210.47,301.79 213.01,301.68" fill="#000000" stroke="none" stroke-width="0.5"/>
<polygon points="231.32,304.52 232.21,306.89 234.74,307.00 232.76,308.58 233.43,311.03 231.32,309.63 229.20,311.03 229.88,308.58 227.89,307.00 230.43,306.89" fill="#000000" stroke="none" stroke-width="0.5"/>
<polygon points="248.74,308.86 249.63,311.24 252.17,311.35 250.18,312.93 250.86,315.37 248.74,313.97 246.63,315.37 247.30,312.93 245.32,311.35 247.85,311.24" fill="#000000" stroke="none" stroke-width="0.5"/>
<polygon points="266.17,309.03 267.06,311.41 269.59,311.52 267.60,313.10 268.28,315.55 266.17,314.15 264.05,315.55 264.73,313.10 262.74,311.52 265.28,311.41" fill="#000000" stroke="none" stroke-width="0.5"/>
<polygon points="283.59,311.99 284.48,314.37 287.01,314.48 285.03,316.06 285.71,318.50 283.59,317.10 281.47,318.50 282.15,316.06 280.17,314.48 282.70,314.37" fill="#000000" stroke="none" stroke-width="0.5"/>
<polygon points="301.02,318.42 301.90,320.80 304.44,320.91 302.45,322.49 303.13,324.93 301.02,323.53 298.90,324.93 299.58,322.49 297.59,320.91 300.13,320.80" fill="#000000" stroke="none" stroke-width="0.5"/>
<polygon points="318.44,317.90 319.33,320.28 321.86,320.39 319.88,321.97 320.56,324.41 318.44,323.01 316.32,324.41 317.00,321.97 315.02,320.39 317.55,320.28" fill="#000000" stroke="none" stroke-width="0.5"/>
<polygon points="335.86,314.07 336.75,316.45 339.29,316.56 337.30,318.14 337.98,320.59 335.86,319.19 333.75,320.59 334.43,318.14 332.44,316.56 334.97,316.45" fill="#000000" stroke="none" stroke-width="0.5"/>
<polygon points="353.29,307.99 354.18,310.37 356.71,310.48 354.73,312.06 355.40,314.50 353.29,313.10 351.17,314.50 351.85,312.06 349.86,310.48 352.40,310.37" fill="#000000" stroke="none" stroke-width="0.5"/>
<polygon points="370.71,293.05 371.60,295.42 374.14,295.53 372.15,297.11 372.83,299.56 370.71,298.16 368.60,299.56 369.27,297.11 367.29,295.53 369.82,295.42" fill="#000000" stroke="none" stroke-width="0.5"/>
<polygon points="388.14,284.01 389.03,286.38 391.56,286.50 389.57,288.07 390.25,290.52 388.14,289.12 386.02,290.52 386.70,288.07 384.71,286.50 387.25,286.38" fill="#000000" stroke="none" stroke-width="0.5"/>
<polygon points="405.56,270.62 406.45,273.00 408.98,273.11 407.00,274.69 407.68,277.14 405.56,275.74 403.44,277.14 404.12,274.69 402.14,273.11 404.67,273.00" fill="#000000" stroke="none" stroke-width="0.5"/>
<polygon points="422.98,285.75 423.87,288.12 426.41,288.23 424.42,289.81 425.10,292.26 422.98,290.86 420.87,292.26 421.55,289.81 419.56,288.23 422.10,288.12" fill="#000000" stroke="none" stroke-width="0.5"/>
<polygon points="440.41,288.35 441.30,290.73 443.83,290.84 441.85,292.42 442.53,294.87 440.41,293.46 438.29,294.87 438.97,292.42 436.99,290.84 439.52,290.73" fill="#000000" stroke="none" stroke-width="0.5"/>
<polygon points="457.83,290.26 458.72,292.64 461.26,292.75 459.27,294.33 459.95,296.78 457.83,295.38 455.72,296.78 456.40,294.33 454.41,292.75 456.94,292.64" fill="#000000" stroke="none" stroke-width="0.5"/>
<polygon points="475.26,284.53 476.15,286.91 478.68,287.02 476.70,288.60 477.37,291.04 475.26,289.64 473.14,291.04 473.82,288.60 471.83,287.02 474.37,286.91" fill="#000000" stroke="none" stroke-width="0.5"/>
<polygon points="492.68,280.18 493.57,282.56 496.11,282.67 494.12,284.25 494.80,286.70 492.68,285.30 490.57,286.70 491.24,284.25 489.26,282.67 491.79,282.56" fill="#000000" stroke="none" stroke-width="0.5"/>
<polygon points="510.11,271.67 510.99,274.04 513.53,274.16 511.54,275.74 512.22,278.18 510.11,276.78 507.99,278.18 508.67,275.74 506.68,274.16 509.22,274.04" fill="#000000" stroke="none" stroke-width="0.5"/>
<polygon points="527.53,306.43 528.42,308.80 530.95,308.92 528.97,310.50 529.65,312.94 527.53,311.54 525.41,312.94 526.09,310.50 524.11,308.92 526.64,308.80" fill="#000000" stroke="none" stroke-width="0.5"/>
<polygon points="544.95,310.25 545.84,312.63 548.38,312.74 546.39,314.32 547.07,316.76 544.95,315.36 542.84,316.76 543.52,314.32 541.53,312.74 544.07,312.63" fill="#000000" stroke="none" stroke-width="0.5"/>
<polygon points="562.38,338.58 563.27,340.96 565.80,341.07 563.82,342.65 564.49,345.09 562.38,343.69 560.26,345.09 560.94,342.65 558.95,341.07 561.49,340.96" fill="#000000" stroke="none" stroke-width="0.5"/>
<polygon points="579.80,359.09 580.69,361.47 583.23,361.58 581.24,363.16 581.92,365.60 579.80,364.20 577.69,365.60 578.37,363.16 576.38,361.58 578.91,361.47" fill="#000000" stroke="none" stroke-width="0.5"/>
<polygon points="597.23,369.86 598.12,372.24 600.65,372.35 598.67,373.93 599.34,376.38 597.23,374.98 595.11,376.38 595.79,373.93 593.80,372.35 596.34,372.24" fill="#000000" stroke="none" stroke-width="0.5"/>
<polygon points="614.65,383.25 615.54,385.62 618.08,385.73 616.09,387.31 616.77,389.76 614.65,388.36 612.54,389.76 613.21,387.31 611.23,385.73 613.76,385.62" fill="#000000" stroke="none" stroke-width="0.5"/>
<polygon points="632.08,386.55 632.96,388.93 635.50,389.04 633.51,390.62 634.19,393.06 632.08,391.66 629.96,393.06 630.64,390.62 628.65,389.04 631.19,388.93" fill="#000000" stroke="none" stroke-width="0.5"/>
<polygon points="649.50,388.64 650.39,391.01 652.92,391.12 650.94,392.70 651.62,395.15 649.50,393.75 647.38,395.15 648.06,392.70 646.08,391.12 648.61,391.01" fill="#000000" stroke="none" stroke-width="0.5"/>
</g><text x="488.7" y="405.4" font-size="13" text-anchor="middle" font-family="'Liberation Serif', serif" font-weight="bold" fill="#c00000">Voltage profile during peak hours</text><text x="488.4" y="421.5" font-size="13" text-anchor="middle" font-family="'Liberation Serif', serif" font-weight="bold" fill="#c00000">double objective</text><line x1="74.50" y1="430.3" x2="74.50" y2="434.3" stroke="#404040" stroke-width="1"/>
<line x1="74.50" y1="252.5" x2="74.50" y2="248.5" stroke="#404040" stroke-width="1"/>
<text x="74.50" y="442.6" font-size="7.3" text-anchor="middle" font-family="'Liberation Serif', serif" font-weight="bold" fill="#000">0</text>
<line x1="91.92" y1="430.3" x2="91.92" y2="432.3" stroke="#404040" stroke-width="1"/>
<line x1="91.92" y1="252.5" x2="91.92" y2="250.5" stroke="#404040" stroke-width="1"/>
<line x1="109.35" y1="430.3" x2="109.35" y2="434.3" stroke="#404040" stroke-width="1"/>
<line x1="109.35" y1="252.5" x2="109.35" y2="248.5" stroke="#404040" stroke-width="1"/>
<text x="109.35" y="442.6" font-size="7.3" text-anchor="middle" font-family="'Liberation Serif', serif" font-weight="bold" fill="#000">2</text>
<line x1="126.77" y1="430.3" x2="126.77" y2="432.3" stroke="#404040" stroke-width="1"/>
<line x1="126.77" y1="252.5" x2="126.77" y2="250.5" stroke="#404040" stroke-width="1"/>
<line x1="144.20" y1="430.3" x2="144.20" y2="434.3" stroke="#404040" stroke-width="1"/>
<line x1="144.20" y1="252.5" x2="144.20" y2="248.5" stroke="#404040" stroke-width="1"/>
<text x="144.20" y="442.6" font-size="7.3" text-anchor="middle" font-family="'Liberation Serif', serif" font-weight="bold" fill="#000">4</text>
<line x1="161.62" y1="430.3" x2="161.62" y2="432.3" stroke="#404040" stroke-width="1"/>
<line x1="161.62" y1="252.5" x2="161.62" y2="250.5" stroke="#404040" stroke-width="1"/>
<line x1="179.05" y1="430.3" x2="179.05" y2="434.3" stroke="#404040" stroke-width="1"/>
<line x1="179.05" y1="252.5" x2="179.05" y2="248.5" stroke="#404040" stroke-width="1"/>
<text x="179.05" y="442.6" font-size="7.3" text-anchor="middle" font-family="'Liberation Serif', serif" font-weight="bold" fill="#000">6</text>
<line x1="196.47" y1="430.3" x2="196.47" y2="432.3" stroke="#404040" stroke-width="1"/>
<line x1="196.47" y1="252.5" x2="196.47" y2="250.5" stroke="#404040" stroke-width="1"/>
<line x1="213.89" y1="430.3" x2="213.89" y2="434.3" stroke="#404040" stroke-width="1"/>
<line x1="213.89" y1="252.5" x2="213.89" y2="248.5" stroke="#404040" stroke-width="1"/>
<text x="213.89" y="442.6" font-size="7.3" text-anchor="middle" font-family="'Liberation Serif', serif" font-weight="bold" fill="#000">8</text>
<line x1="231.32" y1="430.3" x2="231.32" y2="432.3" stroke="#404040" stroke-width="1"/>
<line x1="231.32" y1="252.5" x2="231.32" y2="250.5" stroke="#404040" stroke-width="1"/>
<line x1="248.74" y1="430.3" x2="248.74" y2="434.3" stroke="#404040" stroke-width="1"/>
<line x1="248.74" y1="252.5" x2="248.74" y2="248.5" stroke="#404040" stroke-width="1"/>
<text x="248.74" y="442.6" font-size="7.3" text-anchor="middle" font-family="'Liberation Serif', serif" font-weight="bold" fill="#000">10</text>
<line x1="266.17" y1="430.3" x2="266.17" y2="432.3" stroke="#404040" stroke-width="1"/>
<line x1="266.17" y1="252.5" x2="266.17" y2="250.5" stroke="#404040" stroke-width="1"/>
<line x1="283.59" y1="430.3" x2="283.59" y2="434.3" stroke="#404040" stroke-width="1"/>
<line x1="283.59" y1="252.5" x2="283.59" y2="248.5" stroke="#404040" stroke-width="1"/>
<text x="283.59" y="442.6" font-size="7.3" text-anchor="middle" font-family="'Liberation Serif', serif" font-weight="bold" fill="#000">12</text>
<line x1="301.02" y1="430.3" x2="301.02" y2="432.3" stroke="#404040" stroke-width="1"/>
<line x1="301.02" y1="252.5" x2="301.02" y2="250.5" stroke="#404040" stroke-width="1"/>
<line x1="318.44" y1="430.3" x2="318.44" y2="434.3" stroke="#404040" stroke-width="1"/>
<line x1="318.44" y1="252.5" x2="318.44" y2="248.5" stroke="#404040" stroke-width="1"/>
<text x="318.44" y="442.6" font-size="7.3" text-anchor="middle" font-family="'Liberation Serif', serif" font-weight="bold" fill="#000">14</text>
<line x1="335.86" y1="430.3" x2="335.86" y2="432.3" stroke="#404040" stroke-width="1"/>
<line x1="335.86" y1="252.5" x2="335.86" y2="250.5" stroke="#404040" stroke-width="1"/>
<line x1="353.29" y1="430.3" x2="353.29" y2="434.3" stroke="#404040" stroke-width="1"/>
<line x1="353.29" y1="252.5" x2="353.29" y2="248.5" stroke="#404040" stroke-width="1"/>
<text x="353.29" y="442.6" font-size="7.3" text-anchor="middle" font-family="'Liberation Serif', serif" font-weight="bold" fill="#000">16</text>
<line x1="370.71" y1="430.3" x2="370.71" y2="432.3" stroke="#404040" stroke-width="1"/>
<line x1="370.71" y1="252.5" x2="370.71" y2="250.5" stroke="#404040" stroke-width="1"/>
<line x1="388.14" y1="430.3" x2="388.14" y2="434.3" stroke="#404040" stroke-width="1"/>
<line x1="388.14" y1="252.5" x2="388.14" y2="248.5" stroke="#404040" stroke-width="1"/>
<text x="388.14" y="442.6" font-size="7.3" text-anchor="middle" font-family="'Liberation Serif', serif" font-weight="bold" fill="#000">18</text>
<line x1="405.56" y1="430.3" x2="405.56" y2="432.3" stroke="#404040" stroke-width="1"/>
<line x1="405.56" y1="252.5" x2="405.56" y2="250.5" stroke="#404040" stroke-width="1"/>
<line x1="422.98" y1="430.3" x2="422.98" y2="434.3" stroke="#404040" stroke-width="1"/>
<line x1="422.98" y1="252.5" x2="422.98" y2="248.5" stroke="#404040" stroke-width="1"/>
<text x="422.98" y="442.6" font-size="7.3" text-anchor="middle" font-family="'Liberation Serif', serif" font-weight="bold" fill="#000">20</text>
<line x1="440.41" y1="430.3" x2="440.41" y2="432.3" stroke="#404040" stroke-width="1"/>
<line x1="440.41" y1="252.5" x2="440.41" y2="250.5" stroke="#404040" stroke-width="1"/>
<line x1="457.83" y1="430.3" x2="457.83" y2="434.3" stroke="#404040" stroke-width="1"/>
<line x1="457.83" y1="252.5" x2="457.83" y2="248.5" stroke="#404040" stroke-width="1"/>
<text x="457.83" y="442.6" font-size="7.3" text-anchor="middle" font-family="'Liberation Serif', serif" font-weight="bold" fill="#000">22</text>
<line x1="475.26" y1="430.3" x2="475.26" y2="432.3" stroke="#404040" stroke-width="1"/>
<line x1="475.26" y1="252.5" x2="475.26" y2="250.5" stroke="#404040" stroke-width="1"/>
<line x1="492.68" y1="430.3" x2="492.68" y2="434.3" stroke="#404040" stroke-width="1"/>
<line x1="492.68" y1="252.5" x2="492.68" y2="248.5" stroke="#404040" stroke-width="1"/>
<text x="492.68" y="442.6" font-size="7.3" text-anchor="middle" font-family="'Liberation Serif', serif" font-weight="bold" fill="#000">24</text>
<line x1="510.11" y1="430.3" x2="510.11" y2="432.3" stroke="#404040" stroke-width="1"/>
<line x1="510.11" y1="252.5" x2="510.11" y2="250.5" stroke="#404040" stroke-width="1"/>
<line x1="527.53" y1="430.3" x2="527.53" y2="434.3" stroke="#404040" stroke-width="1"/>
<line x1="527.53" y1="252.5" x2="527.53" y2="248.5" stroke="#404040" stroke-width="1"/>
<text x="527.53" y="442.6" font-size="7.3" text-anchor="middle" font-family="'Liberation Serif', serif" font-weight="bold" fill="#000">26</text>
<line x1="544.95" y1="430.3" x2="544.95" y2="432.3" stroke="#404040" stroke-width="1"/>
<line x1="544.95" y1="252.5" x2="544.95" y2="250.5" stroke="#404040" stroke-width="1"/>
<line x1="562.38" y1="430.3" x2="562.38" y2="434.3" stroke="#404040" stroke-width="1"/>
<line x1="562.38" y1="252.5" x2="562.38" y2="248.5" stroke="#404040" stroke-width="1"/>
<text x="562.38" y="442.6" font-size="7.3" text-anchor="middle" font-family="'Liberation Serif', serif" font-weight="bold" fill="#000">28</text>
<line x1="579.80" y1="430.3" x2="579.80" y2="432.3" stroke="#404040" stroke-width="1"/>
<line x1="579.80" y1="252.5" x2="579.80" y2="250.5" stroke="#404040" stroke-width="1"/>
<line x1="597.23" y1="430.3" x2="597.23" y2="434.3" stroke="#404040" stroke-width="1"/>
<line x1="597.23" y1="252.5" x2="597.23" y2="248.5" stroke="#404040" stroke-width="1"/>
<text x="597.23" y="442.6" font-size="7.3" text-anchor="middle" font-family="'Liberation Serif', serif" font-weight="bold" fill="#000">30</text>
<line x1="614.65" y1="430.3" x2="614.65" y2="432.3" stroke="#404040" stroke-width="1"/>
<line x1="614.65" y1="252.5" x2="614.65" y2="250.5" stroke="#404040" stroke-width="1"/>
<line x1="632.08" y1="430.3" x2="632.08" y2="434.3" stroke="#404040" stroke-width="1"/>
<line x1="632.08" y1="252.5" x2="632.08" y2="248.5" stroke="#404040" stroke-width="1"/>
<text x="632.08" y="442.6" font-size="7.3" text-anchor="middle" font-family="'Liberation Serif', serif" font-weight="bold" fill="#000">32</text>
<line x1="649.50" y1="430.3" x2="649.50" y2="432.3" stroke="#404040" stroke-width="1"/>
<line x1="649.50" y1="252.5" x2="649.50" y2="250.5" stroke="#404040" stroke-width="1"/>
<line x1="70.5" y1="252.50" x2="74.5" y2="252.50" stroke="#404040" stroke-width="1"/>
<line x1="645.5" y1="252.50" x2="649.5" y2="252.50" stroke="#404040" stroke-width="1"/>
<text x="67.5" y="255.70" font-size="9.0" text-anchor="end" font-family="'Liberation Serif', serif" font-weight="bold" fill="#000">1.00</text>
<line x1="72.5" y1="269.88" x2="74.5" y2="269.88" stroke="#404040" stroke-width="1"/>
<line x1="647.5" y1="269.88" x2="649.5" y2="269.88" stroke="#404040" stroke-width="1"/>
<line x1="70.5" y1="287.26" x2="74.5" y2="287.26" stroke="#404040" stroke-width="1"/>
<line x1="645.5" y1="287.26" x2="649.5" y2="287.26" stroke="#404040" stroke-width="1"/>
<text x="67.5" y="290.46" font-size="9.0" text-anchor="end" font-family="'Liberation Serif', serif" font-weight="bold" fill="#000">0.98</text>
<line x1="72.5" y1="304.64" x2="74.5" y2="304.64" stroke="#404040" stroke-width="1"/>
<line x1="647.5" y1="304.64" x2="649.5" y2="304.64" stroke="#404040" stroke-width="1"/>
<line x1="70.5" y1="322.02" x2="74.5" y2="322.02" stroke="#404040" stroke-width="1"/>
<line x1="645.5" y1="322.02" x2="649.5" y2="322.02" stroke="#404040" stroke-width="1"/>
<text x="67.5" y="325.22" font-size="9.0" text-anchor="end" font-family="'Liberation Serif', serif" font-weight="bold" fill="#000">0.96</text>
<line x1="72.5" y1="339.40" x2="74.5" y2="339.40" stroke="#404040" stroke-width="1"/>
<line x1="647.5" y1="339.40" x2="649.5" y2="339.40" stroke="#404040" stroke-width="1"/>
<line x1="70.5" y1="356.78" x2="74.5" y2="356.78" stroke="#404040" stroke-width="1"/>
<line x1="645.5" y1="356.78" x2="649.5" y2="356.78" stroke="#404040" stroke-width="1"/>
<text x="67.5" y="359.98" font-size="9.0" text-anchor="end" font-family="'Liberation Serif', serif" font-weight="bold" fill="#000">0.94</text>
<line x1="72.5" y1="374.16" x2="74.5" y2="374.16" stroke="#404040" stroke-width="1"/>
<line x1="647.5" y1="374.16" x2="649.5" y2="374.16" stroke="#404040" stroke-width="1"/>
<line x1="70.5" y1="391.54" x2="74.5" y2="391.54" stroke="#404040" stroke-width="1"/>
<line x1="645.5" y1="391.54" x2="649.5" y2="391.54" stroke="#404040" stroke-width="1"/>
<text x="67.5" y="394.74" font-size="9.0" text-anchor="end" font-family="'Liberation Serif', serif" font-weight="bold" fill="#000">0.92</text>
<line x1="72.5" y1="408.92" x2="74.5" y2="408.92" stroke="#404040" stroke-width="1"/>
<line x1="647.5" y1="408.92" x2="649.5" y2="408.92" stroke="#404040" stroke-width="1"/>
<line x1="70.5" y1="426.30" x2="74.5" y2="426.30" stroke="#404040" stroke-width="1"/>
<line x1="645.5" y1="426.30" x2="649.5" y2="426.30" stroke="#404040" stroke-width="1"/>
<text x="67.5" y="429.50" font-size="9.0" text-anchor="end" font-family="'Liberation Serif', serif" font-weight="bold" fill="#000">0.90</text>
<line x1="74.5" y1="252.5" x2="650.0" y2="252.5" stroke="#6a6a6a" stroke-width="1.3"/>
<line x1="649.5" y1="252.5" x2="649.5" y2="430.3" stroke="#6a6a6a" stroke-width="1.1"/>
<line x1="74.0" y1="430.3" x2="650.0" y2="430.3" stroke="#203030" stroke-width="1.1"/>
<line x1="74.5" y1="248.5" x2="74.5" y2="434.3" stroke="#000" stroke-width="1.1"/><text x="363.5" y="458.8" font-size="10" text-anchor="middle" font-family="'Liberation Serif', serif" font-weight="bold" fill="#000">Network node (Number)</text><text transform="translate(43.5,344.6) rotate(-90)" font-size="13" text-anchor="middle" font-family="'Liberation Serif', serif" font-weight="bold" fill="#000">Voltage (pu)</text></svg>
</body></html>
